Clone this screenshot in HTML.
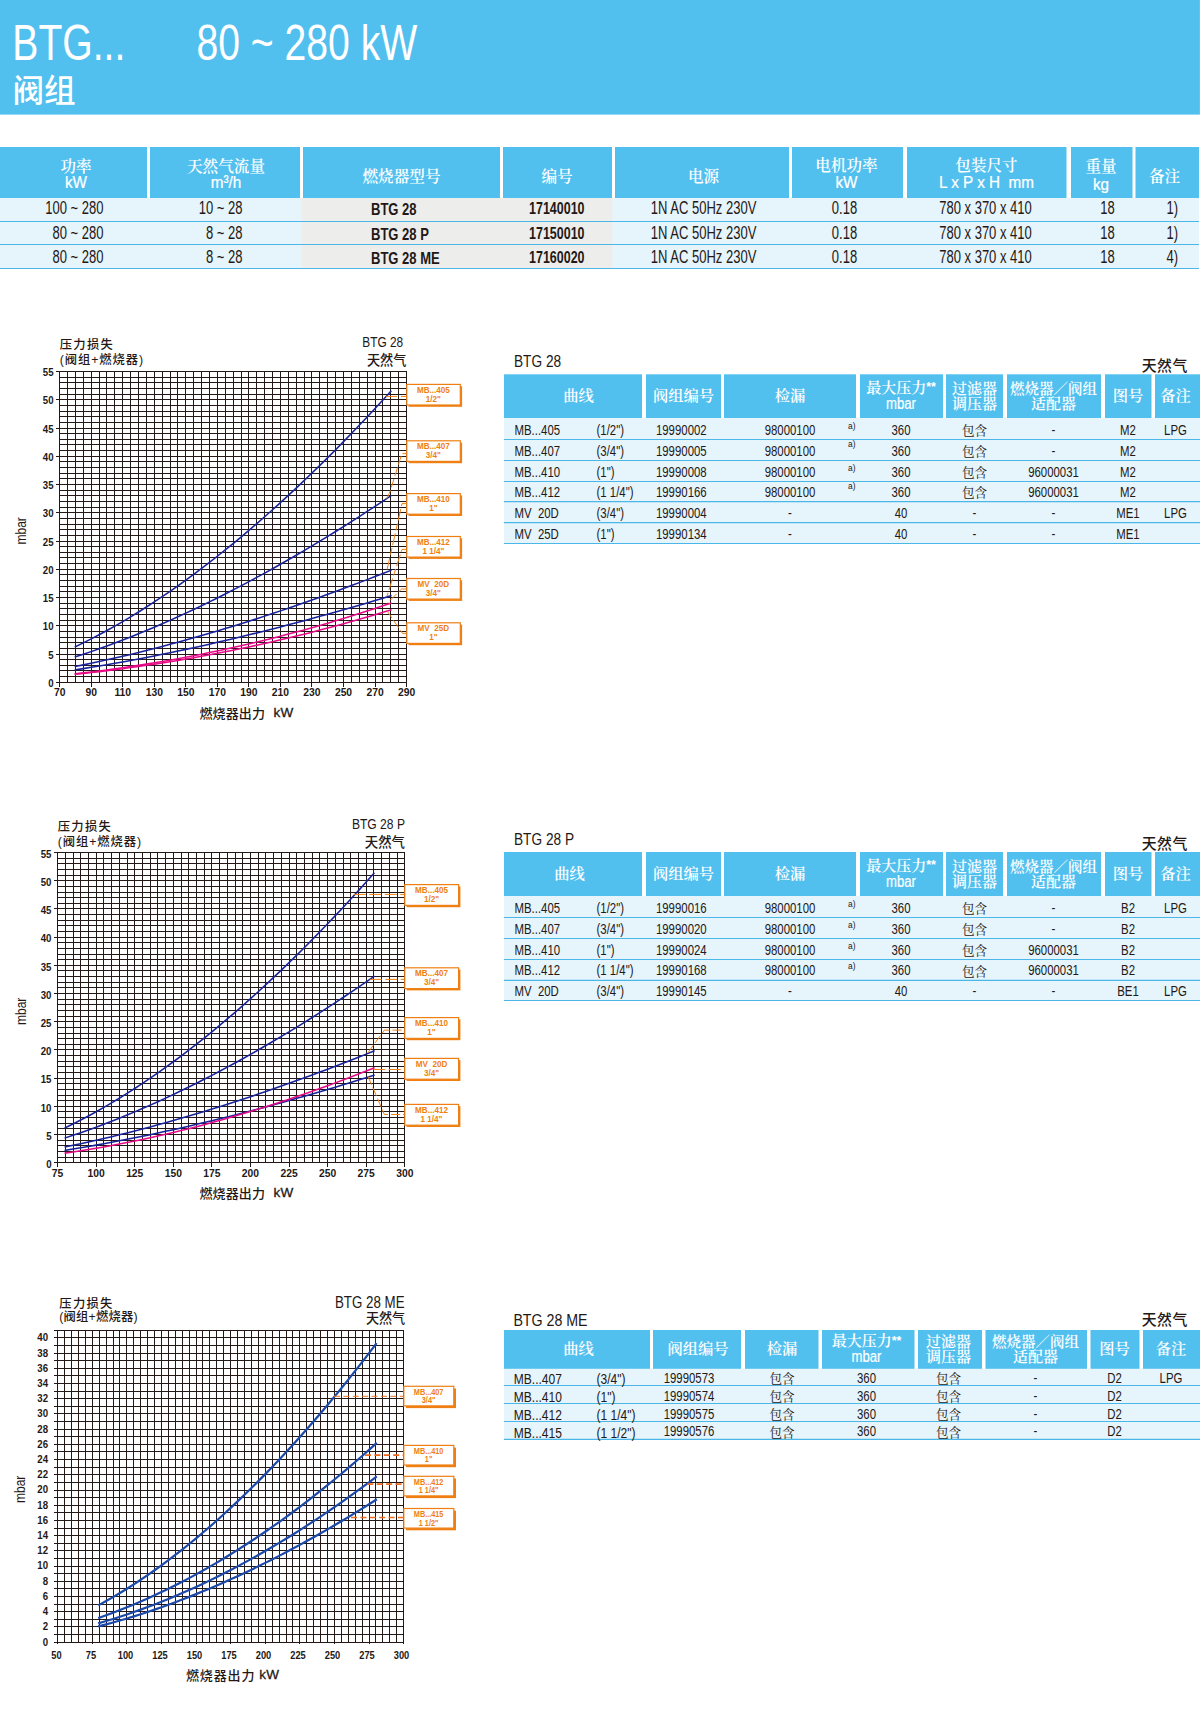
<!DOCTYPE html>
<html lang="zh-CN">
<head>
<meta charset="utf-8">
<title>BTG... 80 ~ 280 kW 阀组</title>
<style>
html,body{margin:0;padding:0;background:#fff;}
body{width:1201px;height:1712px;overflow:hidden;font-family:"Liberation Sans", "Noto Sans CJK SC", sans-serif;}
svg{display:block;}
text{white-space:pre;}
</style>
</head>
<body>
<svg width="1201" height="1712" viewBox="0 0 1201 1712">
<rect x="0.00" y="0.00" width="1199.90" height="114.60" fill="#52c0ef" />
<text transform="translate(12.30,60.00) scale(0.77,1)" font-size="50.8" text-anchor="start" font-weight="normal" fill="#fff" font-family='"Liberation Sans", "Noto Sans CJK SC", sans-serif' >BTG...</text>
<text transform="translate(196.50,60.00) scale(0.77,1)" font-size="50.8" text-anchor="start" font-weight="normal" fill="#fff" font-family='"Liberation Sans", "Noto Sans CJK SC", sans-serif' >80 ~ 280 kW</text>
<text transform="translate(12.50,101.60) scale(1.0,1)" font-size="31.6" text-anchor="start" font-weight="500" fill="#fff" font-family='"Liberation Sans", "Noto Sans CJK SC", sans-serif' >阀组</text>
<rect x="0.00" y="198.00" width="1199.00" height="70.50" fill="#e6f4fc" />
<rect x="301.80" y="198.00" width="310.70" height="70.50" fill="#ededec" />
<rect x="0.00" y="147.00" width="147.00" height="51.00" fill="#52c0ef" />
<rect x="150.00" y="147.00" width="150.00" height="51.00" fill="#52c0ef" />
<rect x="303.00" y="147.00" width="197.00" height="51.00" fill="#52c0ef" />
<rect x="503.00" y="147.00" width="109.00" height="51.00" fill="#52c0ef" />
<rect x="615.00" y="147.00" width="174.00" height="51.00" fill="#52c0ef" />
<rect x="792.00" y="147.00" width="111.00" height="51.00" fill="#52c0ef" />
<rect x="907.00" y="147.00" width="159.50" height="51.00" fill="#52c0ef" />
<rect x="1071.00" y="147.00" width="61.50" height="51.00" fill="#52c0ef" />
<rect x="1135.50" y="147.00" width="63.50" height="51.00" fill="#52c0ef" />
<line x1="0.00" y1="221.50" x2="1199.00" y2="221.50" stroke="#4bb7e8" stroke-width="1.15" />
<line x1="0.00" y1="244.50" x2="1199.00" y2="244.50" stroke="#4bb7e8" stroke-width="1.15" />
<line x1="0.00" y1="268.50" x2="1199.00" y2="268.50" stroke="#4bb7e8" stroke-width="1.15" />
<text transform="translate(76.00,171.50) scale(1.0,1)" font-size="15.6" text-anchor="middle" font-weight="600" fill="#fff" font-family='"Liberation Sans", "Noto Serif CJK SC", serif' >功率</text>
<text transform="translate(76.00,188.00) scale(0.9,1)" font-size="17" text-anchor="middle" font-weight="normal" fill="#fff" font-family='"Liberation Sans", "Noto Sans CJK SC", sans-serif' stroke="#fff" stroke-width="0.25">kW</text>
<text transform="translate(226.00,171.50) scale(1.0,1)" font-size="15.6" text-anchor="middle" font-weight="600" fill="#fff" font-family='"Liberation Sans", "Noto Serif CJK SC", serif' >天然气流量</text>
<text transform="translate(226.00,188.00) scale(0.9,1)" font-size="17" text-anchor="middle" font-weight="normal" fill="#fff" font-family='"Liberation Sans", "Noto Sans CJK SC", sans-serif' stroke="#fff" stroke-width="0.25">m³/h</text>
<text transform="translate(401.50,181.50) scale(1.0,1)" font-size="15.6" text-anchor="middle" font-weight="600" fill="#fff" font-family='"Liberation Sans", "Noto Serif CJK SC", serif' >燃烧器型号</text>
<text transform="translate(557.00,182.00) scale(1.0,1)" font-size="15.6" text-anchor="middle" font-weight="600" fill="#fff" font-family='"Liberation Sans", "Noto Serif CJK SC", serif' >编号</text>
<text transform="translate(703.50,182.00) scale(1.0,1)" font-size="15.6" text-anchor="middle" font-weight="600" fill="#fff" font-family='"Liberation Sans", "Noto Serif CJK SC", serif' >电源</text>
<text transform="translate(846.50,170.50) scale(1.0,1)" font-size="15.6" text-anchor="middle" font-weight="600" fill="#fff" font-family='"Liberation Sans", "Noto Serif CJK SC", serif' >电机功率</text>
<text transform="translate(846.50,188.00) scale(0.9,1)" font-size="17" text-anchor="middle" font-weight="normal" fill="#fff" font-family='"Liberation Sans", "Noto Sans CJK SC", sans-serif' stroke="#fff" stroke-width="0.25">kW</text>
<text transform="translate(986.50,170.50) scale(1.0,1)" font-size="15.6" text-anchor="middle" font-weight="600" fill="#fff" font-family='"Liberation Sans", "Noto Serif CJK SC", serif' >包装尺寸</text>
<text transform="translate(986.50,188.00) scale(0.9,1)" font-size="17" text-anchor="middle" font-weight="normal" fill="#fff" font-family='"Liberation Sans", "Noto Sans CJK SC", sans-serif' stroke="#fff" stroke-width="0.25">L x P x H  mm</text>
<text transform="translate(1101.00,172.00) scale(1.0,1)" font-size="15.6" text-anchor="middle" font-weight="600" fill="#fff" font-family='"Liberation Sans", "Noto Serif CJK SC", serif' >重量</text>
<text transform="translate(1101.00,190.00) scale(0.9,1)" font-size="17" text-anchor="middle" font-weight="normal" fill="#fff" font-family='"Liberation Sans", "Noto Sans CJK SC", sans-serif' stroke="#fff" stroke-width="0.25">kg</text>
<text transform="translate(1164.50,182.00) scale(1.0,1)" font-size="15.6" text-anchor="middle" font-weight="600" fill="#fff" font-family='"Liberation Sans", "Noto Serif CJK SC", serif' >备注</text>
<text transform="translate(103.50,214.30) scale(0.74,1)" font-size="17.6" text-anchor="end" font-weight="normal" fill="#231815" font-family='"Liberation Sans", "Noto Sans CJK SC", sans-serif' >100 ~ 280</text>
<text transform="translate(242.50,214.30) scale(0.74,1)" font-size="17.6" text-anchor="end" font-weight="normal" fill="#231815" font-family='"Liberation Sans", "Noto Sans CJK SC", sans-serif' >10 ~ 28</text>
<text transform="translate(371.00,215.10) scale(0.79,1)" font-size="16.5" text-anchor="start" font-weight="bold" fill="#231815" font-family='"Liberation Sans", "Noto Sans CJK SC", sans-serif' >BTG 28</text>
<text transform="translate(584.50,214.30) scale(0.76,1)" font-size="16.4" text-anchor="end" font-weight="bold" fill="#231815" font-family='"Liberation Sans", "Noto Sans CJK SC", sans-serif' >17140010</text>
<text transform="translate(703.50,214.30) scale(0.74,1)" font-size="17.6" text-anchor="middle" font-weight="normal" fill="#231815" font-family='"Liberation Sans", "Noto Sans CJK SC", sans-serif' >1N AC 50Hz 230V</text>
<text transform="translate(844.50,214.30) scale(0.74,1)" font-size="17.6" text-anchor="middle" font-weight="normal" fill="#231815" font-family='"Liberation Sans", "Noto Sans CJK SC", sans-serif' >0.18</text>
<text transform="translate(985.50,214.30) scale(0.74,1)" font-size="17.6" text-anchor="middle" font-weight="normal" fill="#231815" font-family='"Liberation Sans", "Noto Sans CJK SC", sans-serif' >780 x 370 x 410</text>
<text transform="translate(1107.50,214.30) scale(0.74,1)" font-size="17.6" text-anchor="middle" font-weight="normal" fill="#231815" font-family='"Liberation Sans", "Noto Sans CJK SC", sans-serif' >18</text>
<text transform="translate(1178.00,214.30) scale(0.74,1)" font-size="17.6" text-anchor="end" font-weight="normal" fill="#231815" font-family='"Liberation Sans", "Noto Sans CJK SC", sans-serif' >1)</text>
<text transform="translate(103.50,238.70) scale(0.74,1)" font-size="17.6" text-anchor="end" font-weight="normal" fill="#231815" font-family='"Liberation Sans", "Noto Sans CJK SC", sans-serif' >80 ~ 280</text>
<text transform="translate(242.50,238.70) scale(0.74,1)" font-size="17.6" text-anchor="end" font-weight="normal" fill="#231815" font-family='"Liberation Sans", "Noto Sans CJK SC", sans-serif' >8 ~ 28</text>
<text transform="translate(371.00,239.50) scale(0.79,1)" font-size="16.5" text-anchor="start" font-weight="bold" fill="#231815" font-family='"Liberation Sans", "Noto Sans CJK SC", sans-serif' >BTG 28 P</text>
<text transform="translate(584.50,238.70) scale(0.76,1)" font-size="16.4" text-anchor="end" font-weight="bold" fill="#231815" font-family='"Liberation Sans", "Noto Sans CJK SC", sans-serif' >17150010</text>
<text transform="translate(703.50,238.70) scale(0.74,1)" font-size="17.6" text-anchor="middle" font-weight="normal" fill="#231815" font-family='"Liberation Sans", "Noto Sans CJK SC", sans-serif' >1N AC 50Hz 230V</text>
<text transform="translate(844.50,238.70) scale(0.74,1)" font-size="17.6" text-anchor="middle" font-weight="normal" fill="#231815" font-family='"Liberation Sans", "Noto Sans CJK SC", sans-serif' >0.18</text>
<text transform="translate(985.50,238.70) scale(0.74,1)" font-size="17.6" text-anchor="middle" font-weight="normal" fill="#231815" font-family='"Liberation Sans", "Noto Sans CJK SC", sans-serif' >780 x 370 x 410</text>
<text transform="translate(1107.50,238.70) scale(0.74,1)" font-size="17.6" text-anchor="middle" font-weight="normal" fill="#231815" font-family='"Liberation Sans", "Noto Sans CJK SC", sans-serif' >18</text>
<text transform="translate(1178.00,238.70) scale(0.74,1)" font-size="17.6" text-anchor="end" font-weight="normal" fill="#231815" font-family='"Liberation Sans", "Noto Sans CJK SC", sans-serif' >1)</text>
<text transform="translate(103.50,263.00) scale(0.74,1)" font-size="17.6" text-anchor="end" font-weight="normal" fill="#231815" font-family='"Liberation Sans", "Noto Sans CJK SC", sans-serif' >80 ~ 280</text>
<text transform="translate(242.50,263.00) scale(0.74,1)" font-size="17.6" text-anchor="end" font-weight="normal" fill="#231815" font-family='"Liberation Sans", "Noto Sans CJK SC", sans-serif' >8 ~ 28</text>
<text transform="translate(371.00,263.80) scale(0.79,1)" font-size="16.5" text-anchor="start" font-weight="bold" fill="#231815" font-family='"Liberation Sans", "Noto Sans CJK SC", sans-serif' >BTG 28 ME</text>
<text transform="translate(584.50,263.00) scale(0.76,1)" font-size="16.4" text-anchor="end" font-weight="bold" fill="#231815" font-family='"Liberation Sans", "Noto Sans CJK SC", sans-serif' >17160020</text>
<text transform="translate(703.50,263.00) scale(0.74,1)" font-size="17.6" text-anchor="middle" font-weight="normal" fill="#231815" font-family='"Liberation Sans", "Noto Sans CJK SC", sans-serif' >1N AC 50Hz 230V</text>
<text transform="translate(844.50,263.00) scale(0.74,1)" font-size="17.6" text-anchor="middle" font-weight="normal" fill="#231815" font-family='"Liberation Sans", "Noto Sans CJK SC", sans-serif' >0.18</text>
<text transform="translate(985.50,263.00) scale(0.74,1)" font-size="17.6" text-anchor="middle" font-weight="normal" fill="#231815" font-family='"Liberation Sans", "Noto Sans CJK SC", sans-serif' >780 x 370 x 410</text>
<text transform="translate(1107.50,263.00) scale(0.74,1)" font-size="17.6" text-anchor="middle" font-weight="normal" fill="#231815" font-family='"Liberation Sans", "Noto Sans CJK SC", sans-serif' >18</text>
<text transform="translate(1178.00,263.00) scale(0.74,1)" font-size="17.6" text-anchor="end" font-weight="normal" fill="#231815" font-family='"Liberation Sans", "Noto Sans CJK SC", sans-serif' >4)</text>
<text transform="translate(514.00,367.00) scale(0.855,1)" font-size="16" text-anchor="start" font-weight="normal" fill="#231815" font-family='"Liberation Sans", "Noto Sans CJK SC", sans-serif' >BTG 28</text>
<text transform="translate(1188.00,370.80) scale(1.0,1)" font-size="14.9" text-anchor="end" font-weight="500" fill="#231815" font-family='"Liberation Sans", "Noto Sans CJK SC", sans-serif' letter-spacing="0.55">天然气</text>
<rect x="504.00" y="418.00" width="696.00" height="125.50" fill="#e6f4fc" />
<rect x="504.00" y="374.30" width="138.00" height="43.70" fill="#52c0ef" />
<rect x="646.00" y="374.30" width="75.00" height="43.70" fill="#52c0ef" />
<rect x="724.00" y="374.30" width="132.00" height="43.70" fill="#52c0ef" />
<rect x="860.00" y="374.30" width="83.00" height="43.70" fill="#52c0ef" />
<rect x="946.00" y="374.30" width="57.00" height="43.70" fill="#52c0ef" />
<rect x="1007.00" y="374.30" width="94.00" height="43.70" fill="#52c0ef" />
<rect x="1105.00" y="374.30" width="46.50" height="43.70" fill="#52c0ef" />
<rect x="1155.00" y="374.30" width="45.00" height="43.70" fill="#52c0ef" />
<line x1="504.00" y1="439.50" x2="1200.00" y2="439.50" stroke="#4bb7e8" stroke-width="1.1" />
<line x1="504.00" y1="460.50" x2="1200.00" y2="460.50" stroke="#4bb7e8" stroke-width="1.1" />
<line x1="504.00" y1="481.50" x2="1200.00" y2="481.50" stroke="#4bb7e8" stroke-width="1.1" />
<line x1="504.00" y1="501.60" x2="1200.00" y2="501.60" stroke="#4bb7e8" stroke-width="1.1" />
<line x1="504.00" y1="522.60" x2="1200.00" y2="522.60" stroke="#4bb7e8" stroke-width="1.1" />
<line x1="504.00" y1="543.50" x2="1200.00" y2="543.50" stroke="#4bb7e8" stroke-width="1.1" />
<text transform="translate(578.50,400.95) scale(1.0,1)" font-size="15.3" text-anchor="middle" font-weight="600" fill="#fff" font-family='"Liberation Sans", "Noto Serif CJK SC", serif' >曲线</text>
<text transform="translate(683.50,400.95) scale(1.0,1)" font-size="15.3" text-anchor="middle" font-weight="600" fill="#fff" font-family='"Liberation Sans", "Noto Serif CJK SC", serif' >阀组编号</text>
<text transform="translate(790.00,400.95) scale(1.0,1)" font-size="15.3" text-anchor="middle" font-weight="600" fill="#fff" font-family='"Liberation Sans", "Noto Serif CJK SC", serif' >检漏</text>
<text transform="translate(901.00,392.65) scale(1.0,1)" font-size="15" text-anchor="middle" font-weight="600" fill="#fff" font-family='"Liberation Sans", "Noto Serif CJK SC", serif' >最大压力<tspan font-family="Liberation Sans, sans-serif" font-weight="bold" font-size="12.5" dy="-1.2">**</tspan></text>
<text transform="translate(901.00,409.15) scale(0.82,1)" font-size="16" text-anchor="middle" font-weight="normal" fill="#fff" font-family='"Liberation Sans", "Noto Sans CJK SC", sans-serif' stroke="#fff" stroke-width="0.2">mbar</text>
<text transform="translate(974.50,393.65) scale(1.0,1)" font-size="15" text-anchor="middle" font-weight="600" fill="#fff" font-family='"Liberation Sans", "Noto Serif CJK SC", serif' >过滤器</text>
<text transform="translate(974.50,409.15) scale(1.0,1)" font-size="15" text-anchor="middle" font-weight="600" fill="#fff" font-family='"Liberation Sans", "Noto Serif CJK SC", serif' >调压器</text>
<text transform="translate(1053.50,393.65) scale(1.0,1)" font-size="14.5" text-anchor="middle" font-weight="600" fill="#fff" font-family='"Liberation Sans", "Noto Serif CJK SC", serif' >燃烧器／阀组</text>
<text transform="translate(1053.50,409.15) scale(1.0,1)" font-size="15" text-anchor="middle" font-weight="600" fill="#fff" font-family='"Liberation Sans", "Noto Serif CJK SC", serif' >适配器</text>
<text transform="translate(1128.00,400.95) scale(1.0,1)" font-size="15.3" text-anchor="middle" font-weight="600" fill="#fff" font-family='"Liberation Sans", "Noto Serif CJK SC", serif' >图号</text>
<text transform="translate(1175.50,400.95) scale(1.0,1)" font-size="15.3" text-anchor="middle" font-weight="600" fill="#fff" font-family='"Liberation Sans", "Noto Serif CJK SC", serif' >备注</text>
<text transform="translate(514.50,434.50) scale(0.82,1)" font-size="13.9" text-anchor="start" font-weight="normal" fill="#231815" font-family='"Liberation Sans", "Noto Sans CJK SC", sans-serif' >MB...405</text>
<text transform="translate(596.50,434.50) scale(0.82,1)" font-size="13.9" text-anchor="start" font-weight="normal" fill="#231815" font-family='"Liberation Sans", "Noto Sans CJK SC", sans-serif' >(1/2")</text>
<text transform="translate(681.30,434.50) scale(0.82,1)" font-size="13.9" text-anchor="middle" font-weight="normal" fill="#231815" font-family='"Liberation Sans", "Noto Sans CJK SC", sans-serif' >19990002</text>
<text transform="translate(790.00,434.50) scale(0.82,1)" font-size="13.9" text-anchor="middle" font-weight="normal" fill="#231815" font-family='"Liberation Sans", "Noto Sans CJK SC", sans-serif' >98000100</text>
<text transform="translate(848.00,429.30) scale(0.88,1)" font-size="9.5" text-anchor="start" font-weight="normal" fill="#231815" font-family='"Liberation Sans", "Noto Sans CJK SC", sans-serif' >a)</text>
<text transform="translate(901.00,434.50) scale(0.82,1)" font-size="13.9" text-anchor="middle" font-weight="normal" fill="#231815" font-family='"Liberation Sans", "Noto Sans CJK SC", sans-serif' >360</text>
<text transform="translate(974.50,434.80) scale(1.0,1)" font-size="12.6" text-anchor="middle" font-weight="normal" fill="#231815" font-family='"Liberation Sans", "Noto Serif CJK SC", serif' >包含</text>
<text transform="translate(1053.50,434.50) scale(0.82,1)" font-size="13.9" text-anchor="middle" font-weight="normal" fill="#231815" font-family='"Liberation Sans", "Noto Sans CJK SC", sans-serif' >-</text>
<text transform="translate(1128.00,434.50) scale(0.82,1)" font-size="13.9" text-anchor="middle" font-weight="normal" fill="#231815" font-family='"Liberation Sans", "Noto Sans CJK SC", sans-serif' >M2</text>
<text transform="translate(1175.50,434.50) scale(0.82,1)" font-size="13.9" text-anchor="middle" font-weight="normal" fill="#231815" font-family='"Liberation Sans", "Noto Sans CJK SC", sans-serif' >LPG</text>
<text transform="translate(514.50,455.50) scale(0.82,1)" font-size="13.9" text-anchor="start" font-weight="normal" fill="#231815" font-family='"Liberation Sans", "Noto Sans CJK SC", sans-serif' >MB...407</text>
<text transform="translate(596.50,455.50) scale(0.82,1)" font-size="13.9" text-anchor="start" font-weight="normal" fill="#231815" font-family='"Liberation Sans", "Noto Sans CJK SC", sans-serif' >(3/4")</text>
<text transform="translate(681.30,455.50) scale(0.82,1)" font-size="13.9" text-anchor="middle" font-weight="normal" fill="#231815" font-family='"Liberation Sans", "Noto Sans CJK SC", sans-serif' >19990005</text>
<text transform="translate(790.00,455.50) scale(0.82,1)" font-size="13.9" text-anchor="middle" font-weight="normal" fill="#231815" font-family='"Liberation Sans", "Noto Sans CJK SC", sans-serif' >98000100</text>
<text transform="translate(848.00,447.30) scale(0.88,1)" font-size="9.5" text-anchor="start" font-weight="normal" fill="#231815" font-family='"Liberation Sans", "Noto Sans CJK SC", sans-serif' >a)</text>
<text transform="translate(901.00,455.50) scale(0.82,1)" font-size="13.9" text-anchor="middle" font-weight="normal" fill="#231815" font-family='"Liberation Sans", "Noto Sans CJK SC", sans-serif' >360</text>
<text transform="translate(974.50,455.80) scale(1.0,1)" font-size="12.6" text-anchor="middle" font-weight="normal" fill="#231815" font-family='"Liberation Sans", "Noto Serif CJK SC", serif' >包含</text>
<text transform="translate(1053.50,455.50) scale(0.82,1)" font-size="13.9" text-anchor="middle" font-weight="normal" fill="#231815" font-family='"Liberation Sans", "Noto Sans CJK SC", sans-serif' >-</text>
<text transform="translate(1128.00,455.50) scale(0.82,1)" font-size="13.9" text-anchor="middle" font-weight="normal" fill="#231815" font-family='"Liberation Sans", "Noto Sans CJK SC", sans-serif' >M2</text>
<text transform="translate(514.50,476.50) scale(0.82,1)" font-size="13.9" text-anchor="start" font-weight="normal" fill="#231815" font-family='"Liberation Sans", "Noto Sans CJK SC", sans-serif' >MB...410</text>
<text transform="translate(596.50,476.50) scale(0.82,1)" font-size="13.9" text-anchor="start" font-weight="normal" fill="#231815" font-family='"Liberation Sans", "Noto Sans CJK SC", sans-serif' >(1")</text>
<text transform="translate(681.30,476.50) scale(0.82,1)" font-size="13.9" text-anchor="middle" font-weight="normal" fill="#231815" font-family='"Liberation Sans", "Noto Sans CJK SC", sans-serif' >19990008</text>
<text transform="translate(790.00,476.50) scale(0.82,1)" font-size="13.9" text-anchor="middle" font-weight="normal" fill="#231815" font-family='"Liberation Sans", "Noto Sans CJK SC", sans-serif' >98000100</text>
<text transform="translate(848.00,470.80) scale(0.88,1)" font-size="9.5" text-anchor="start" font-weight="normal" fill="#231815" font-family='"Liberation Sans", "Noto Sans CJK SC", sans-serif' >a)</text>
<text transform="translate(901.00,476.50) scale(0.82,1)" font-size="13.9" text-anchor="middle" font-weight="normal" fill="#231815" font-family='"Liberation Sans", "Noto Sans CJK SC", sans-serif' >360</text>
<text transform="translate(974.50,476.80) scale(1.0,1)" font-size="12.6" text-anchor="middle" font-weight="normal" fill="#231815" font-family='"Liberation Sans", "Noto Serif CJK SC", serif' >包含</text>
<text transform="translate(1053.50,476.50) scale(0.82,1)" font-size="13.9" text-anchor="middle" font-weight="normal" fill="#231815" font-family='"Liberation Sans", "Noto Sans CJK SC", sans-serif' >96000031</text>
<text transform="translate(1128.00,476.50) scale(0.82,1)" font-size="13.9" text-anchor="middle" font-weight="normal" fill="#231815" font-family='"Liberation Sans", "Noto Sans CJK SC", sans-serif' >M2</text>
<text transform="translate(514.50,496.60) scale(0.82,1)" font-size="13.9" text-anchor="start" font-weight="normal" fill="#231815" font-family='"Liberation Sans", "Noto Sans CJK SC", sans-serif' >MB...412</text>
<text transform="translate(596.50,496.60) scale(0.82,1)" font-size="13.9" text-anchor="start" font-weight="normal" fill="#231815" font-family='"Liberation Sans", "Noto Sans CJK SC", sans-serif' >(1 1/4")</text>
<text transform="translate(681.30,496.60) scale(0.82,1)" font-size="13.9" text-anchor="middle" font-weight="normal" fill="#231815" font-family='"Liberation Sans", "Noto Sans CJK SC", sans-serif' >19990166</text>
<text transform="translate(790.00,496.60) scale(0.82,1)" font-size="13.9" text-anchor="middle" font-weight="normal" fill="#231815" font-family='"Liberation Sans", "Noto Sans CJK SC", sans-serif' >98000100</text>
<text transform="translate(848.00,488.90) scale(0.88,1)" font-size="9.5" text-anchor="start" font-weight="normal" fill="#231815" font-family='"Liberation Sans", "Noto Sans CJK SC", sans-serif' >a)</text>
<text transform="translate(901.00,496.60) scale(0.82,1)" font-size="13.9" text-anchor="middle" font-weight="normal" fill="#231815" font-family='"Liberation Sans", "Noto Sans CJK SC", sans-serif' >360</text>
<text transform="translate(974.50,496.90) scale(1.0,1)" font-size="12.6" text-anchor="middle" font-weight="normal" fill="#231815" font-family='"Liberation Sans", "Noto Serif CJK SC", serif' >包含</text>
<text transform="translate(1053.50,496.60) scale(0.82,1)" font-size="13.9" text-anchor="middle" font-weight="normal" fill="#231815" font-family='"Liberation Sans", "Noto Sans CJK SC", sans-serif' >96000031</text>
<text transform="translate(1128.00,496.60) scale(0.82,1)" font-size="13.9" text-anchor="middle" font-weight="normal" fill="#231815" font-family='"Liberation Sans", "Noto Sans CJK SC", sans-serif' >M2</text>
<text transform="translate(514.50,517.60) scale(0.82,1)" font-size="13.9" text-anchor="start" font-weight="normal" fill="#231815" font-family='"Liberation Sans", "Noto Sans CJK SC", sans-serif' >MV  20D</text>
<text transform="translate(596.50,517.60) scale(0.82,1)" font-size="13.9" text-anchor="start" font-weight="normal" fill="#231815" font-family='"Liberation Sans", "Noto Sans CJK SC", sans-serif' >(3/4")</text>
<text transform="translate(681.30,517.60) scale(0.82,1)" font-size="13.9" text-anchor="middle" font-weight="normal" fill="#231815" font-family='"Liberation Sans", "Noto Sans CJK SC", sans-serif' >19990004</text>
<text transform="translate(790.00,517.60) scale(0.82,1)" font-size="13.9" text-anchor="middle" font-weight="normal" fill="#231815" font-family='"Liberation Sans", "Noto Sans CJK SC", sans-serif' >-</text>
<text transform="translate(901.00,517.60) scale(0.82,1)" font-size="13.9" text-anchor="middle" font-weight="normal" fill="#231815" font-family='"Liberation Sans", "Noto Sans CJK SC", sans-serif' >40</text>
<text transform="translate(974.50,517.60) scale(0.82,1)" font-size="13.9" text-anchor="middle" font-weight="normal" fill="#231815" font-family='"Liberation Sans", "Noto Sans CJK SC", sans-serif' >-</text>
<text transform="translate(1053.50,517.60) scale(0.82,1)" font-size="13.9" text-anchor="middle" font-weight="normal" fill="#231815" font-family='"Liberation Sans", "Noto Sans CJK SC", sans-serif' >-</text>
<text transform="translate(1128.00,517.60) scale(0.82,1)" font-size="13.9" text-anchor="middle" font-weight="normal" fill="#231815" font-family='"Liberation Sans", "Noto Sans CJK SC", sans-serif' >ME1</text>
<text transform="translate(1175.50,517.60) scale(0.82,1)" font-size="13.9" text-anchor="middle" font-weight="normal" fill="#231815" font-family='"Liberation Sans", "Noto Sans CJK SC", sans-serif' >LPG</text>
<text transform="translate(514.50,538.50) scale(0.82,1)" font-size="13.9" text-anchor="start" font-weight="normal" fill="#231815" font-family='"Liberation Sans", "Noto Sans CJK SC", sans-serif' >MV  25D</text>
<text transform="translate(596.50,538.50) scale(0.82,1)" font-size="13.9" text-anchor="start" font-weight="normal" fill="#231815" font-family='"Liberation Sans", "Noto Sans CJK SC", sans-serif' >(1")</text>
<text transform="translate(681.30,538.50) scale(0.82,1)" font-size="13.9" text-anchor="middle" font-weight="normal" fill="#231815" font-family='"Liberation Sans", "Noto Sans CJK SC", sans-serif' >19990134</text>
<text transform="translate(790.00,538.50) scale(0.82,1)" font-size="13.9" text-anchor="middle" font-weight="normal" fill="#231815" font-family='"Liberation Sans", "Noto Sans CJK SC", sans-serif' >-</text>
<text transform="translate(901.00,538.50) scale(0.82,1)" font-size="13.9" text-anchor="middle" font-weight="normal" fill="#231815" font-family='"Liberation Sans", "Noto Sans CJK SC", sans-serif' >40</text>
<text transform="translate(974.50,538.50) scale(0.82,1)" font-size="13.9" text-anchor="middle" font-weight="normal" fill="#231815" font-family='"Liberation Sans", "Noto Sans CJK SC", sans-serif' >-</text>
<text transform="translate(1053.50,538.50) scale(0.82,1)" font-size="13.9" text-anchor="middle" font-weight="normal" fill="#231815" font-family='"Liberation Sans", "Noto Sans CJK SC", sans-serif' >-</text>
<text transform="translate(1128.00,538.50) scale(0.82,1)" font-size="13.9" text-anchor="middle" font-weight="normal" fill="#231815" font-family='"Liberation Sans", "Noto Sans CJK SC", sans-serif' >ME1</text>
<text transform="translate(514.00,845.00) scale(0.855,1)" font-size="16" text-anchor="start" font-weight="normal" fill="#231815" font-family='"Liberation Sans", "Noto Sans CJK SC", sans-serif' >BTG 28 P</text>
<text transform="translate(1188.00,848.80) scale(1.0,1)" font-size="14.9" text-anchor="end" font-weight="500" fill="#231815" font-family='"Liberation Sans", "Noto Sans CJK SC", sans-serif' letter-spacing="0.55">天然气</text>
<rect x="504.00" y="896.00" width="696.00" height="104.50" fill="#e6f4fc" />
<rect x="504.00" y="852.00" width="138.00" height="44.00" fill="#52c0ef" />
<rect x="646.00" y="852.00" width="75.00" height="44.00" fill="#52c0ef" />
<rect x="724.00" y="852.00" width="132.00" height="44.00" fill="#52c0ef" />
<rect x="860.00" y="852.00" width="83.00" height="44.00" fill="#52c0ef" />
<rect x="946.00" y="852.00" width="57.00" height="44.00" fill="#52c0ef" />
<rect x="1007.00" y="852.00" width="94.00" height="44.00" fill="#52c0ef" />
<rect x="1105.00" y="852.00" width="46.50" height="44.00" fill="#52c0ef" />
<rect x="1155.00" y="852.00" width="45.00" height="44.00" fill="#52c0ef" />
<line x1="504.00" y1="917.50" x2="1200.00" y2="917.50" stroke="#4bb7e8" stroke-width="1.1" />
<line x1="504.00" y1="938.50" x2="1200.00" y2="938.50" stroke="#4bb7e8" stroke-width="1.1" />
<line x1="504.00" y1="959.50" x2="1200.00" y2="959.50" stroke="#4bb7e8" stroke-width="1.1" />
<line x1="504.00" y1="980.40" x2="1200.00" y2="980.40" stroke="#4bb7e8" stroke-width="1.1" />
<line x1="504.00" y1="1000.50" x2="1200.00" y2="1000.50" stroke="#4bb7e8" stroke-width="1.1" />
<text transform="translate(569.50,878.80) scale(1.0,1)" font-size="15.3" text-anchor="middle" font-weight="600" fill="#fff" font-family='"Liberation Sans", "Noto Serif CJK SC", serif' >曲线</text>
<text transform="translate(683.50,878.80) scale(1.0,1)" font-size="15.3" text-anchor="middle" font-weight="600" fill="#fff" font-family='"Liberation Sans", "Noto Serif CJK SC", serif' >阀组编号</text>
<text transform="translate(790.00,878.80) scale(1.0,1)" font-size="15.3" text-anchor="middle" font-weight="600" fill="#fff" font-family='"Liberation Sans", "Noto Serif CJK SC", serif' >检漏</text>
<text transform="translate(901.00,870.50) scale(1.0,1)" font-size="15" text-anchor="middle" font-weight="600" fill="#fff" font-family='"Liberation Sans", "Noto Serif CJK SC", serif' >最大压力<tspan font-family="Liberation Sans, sans-serif" font-weight="bold" font-size="12.5" dy="-1.2">**</tspan></text>
<text transform="translate(901.00,887.00) scale(0.82,1)" font-size="16" text-anchor="middle" font-weight="normal" fill="#fff" font-family='"Liberation Sans", "Noto Sans CJK SC", sans-serif' stroke="#fff" stroke-width="0.2">mbar</text>
<text transform="translate(974.50,871.50) scale(1.0,1)" font-size="15" text-anchor="middle" font-weight="600" fill="#fff" font-family='"Liberation Sans", "Noto Serif CJK SC", serif' >过滤器</text>
<text transform="translate(974.50,887.00) scale(1.0,1)" font-size="15" text-anchor="middle" font-weight="600" fill="#fff" font-family='"Liberation Sans", "Noto Serif CJK SC", serif' >调压器</text>
<text transform="translate(1053.50,871.50) scale(1.0,1)" font-size="14.5" text-anchor="middle" font-weight="600" fill="#fff" font-family='"Liberation Sans", "Noto Serif CJK SC", serif' >燃烧器／阀组</text>
<text transform="translate(1053.50,887.00) scale(1.0,1)" font-size="15" text-anchor="middle" font-weight="600" fill="#fff" font-family='"Liberation Sans", "Noto Serif CJK SC", serif' >适配器</text>
<text transform="translate(1128.00,878.80) scale(1.0,1)" font-size="15.3" text-anchor="middle" font-weight="600" fill="#fff" font-family='"Liberation Sans", "Noto Serif CJK SC", serif' >图号</text>
<text transform="translate(1175.50,878.80) scale(1.0,1)" font-size="15.3" text-anchor="middle" font-weight="600" fill="#fff" font-family='"Liberation Sans", "Noto Serif CJK SC", serif' >备注</text>
<text transform="translate(514.50,912.50) scale(0.82,1)" font-size="13.9" text-anchor="start" font-weight="normal" fill="#231815" font-family='"Liberation Sans", "Noto Sans CJK SC", sans-serif' >MB...405</text>
<text transform="translate(596.50,912.50) scale(0.82,1)" font-size="13.9" text-anchor="start" font-weight="normal" fill="#231815" font-family='"Liberation Sans", "Noto Sans CJK SC", sans-serif' >(1/2")</text>
<text transform="translate(681.30,912.50) scale(0.82,1)" font-size="13.9" text-anchor="middle" font-weight="normal" fill="#231815" font-family='"Liberation Sans", "Noto Sans CJK SC", sans-serif' >19990016</text>
<text transform="translate(790.00,912.50) scale(0.82,1)" font-size="13.9" text-anchor="middle" font-weight="normal" fill="#231815" font-family='"Liberation Sans", "Noto Sans CJK SC", sans-serif' >98000100</text>
<text transform="translate(848.00,906.80) scale(0.88,1)" font-size="9.5" text-anchor="start" font-weight="normal" fill="#231815" font-family='"Liberation Sans", "Noto Sans CJK SC", sans-serif' >a)</text>
<text transform="translate(901.00,912.50) scale(0.82,1)" font-size="13.9" text-anchor="middle" font-weight="normal" fill="#231815" font-family='"Liberation Sans", "Noto Sans CJK SC", sans-serif' >360</text>
<text transform="translate(974.50,912.80) scale(1.0,1)" font-size="12.6" text-anchor="middle" font-weight="normal" fill="#231815" font-family='"Liberation Sans", "Noto Serif CJK SC", serif' >包含</text>
<text transform="translate(1053.50,912.50) scale(0.82,1)" font-size="13.9" text-anchor="middle" font-weight="normal" fill="#231815" font-family='"Liberation Sans", "Noto Sans CJK SC", sans-serif' >-</text>
<text transform="translate(1128.00,912.50) scale(0.82,1)" font-size="13.9" text-anchor="middle" font-weight="normal" fill="#231815" font-family='"Liberation Sans", "Noto Sans CJK SC", sans-serif' >B2</text>
<text transform="translate(1175.50,912.50) scale(0.82,1)" font-size="13.9" text-anchor="middle" font-weight="normal" fill="#231815" font-family='"Liberation Sans", "Noto Sans CJK SC", sans-serif' >LPG</text>
<text transform="translate(514.50,933.50) scale(0.82,1)" font-size="13.9" text-anchor="start" font-weight="normal" fill="#231815" font-family='"Liberation Sans", "Noto Sans CJK SC", sans-serif' >MB...407</text>
<text transform="translate(596.50,933.50) scale(0.82,1)" font-size="13.9" text-anchor="start" font-weight="normal" fill="#231815" font-family='"Liberation Sans", "Noto Sans CJK SC", sans-serif' >(3/4")</text>
<text transform="translate(681.30,933.50) scale(0.82,1)" font-size="13.9" text-anchor="middle" font-weight="normal" fill="#231815" font-family='"Liberation Sans", "Noto Sans CJK SC", sans-serif' >19990020</text>
<text transform="translate(790.00,933.50) scale(0.82,1)" font-size="13.9" text-anchor="middle" font-weight="normal" fill="#231815" font-family='"Liberation Sans", "Noto Sans CJK SC", sans-serif' >98000100</text>
<text transform="translate(848.00,927.80) scale(0.88,1)" font-size="9.5" text-anchor="start" font-weight="normal" fill="#231815" font-family='"Liberation Sans", "Noto Sans CJK SC", sans-serif' >a)</text>
<text transform="translate(901.00,933.50) scale(0.82,1)" font-size="13.9" text-anchor="middle" font-weight="normal" fill="#231815" font-family='"Liberation Sans", "Noto Sans CJK SC", sans-serif' >360</text>
<text transform="translate(974.50,933.80) scale(1.0,1)" font-size="12.6" text-anchor="middle" font-weight="normal" fill="#231815" font-family='"Liberation Sans", "Noto Serif CJK SC", serif' >包含</text>
<text transform="translate(1053.50,933.50) scale(0.82,1)" font-size="13.9" text-anchor="middle" font-weight="normal" fill="#231815" font-family='"Liberation Sans", "Noto Sans CJK SC", sans-serif' >-</text>
<text transform="translate(1128.00,933.50) scale(0.82,1)" font-size="13.9" text-anchor="middle" font-weight="normal" fill="#231815" font-family='"Liberation Sans", "Noto Sans CJK SC", sans-serif' >B2</text>
<text transform="translate(514.50,954.50) scale(0.82,1)" font-size="13.9" text-anchor="start" font-weight="normal" fill="#231815" font-family='"Liberation Sans", "Noto Sans CJK SC", sans-serif' >MB...410</text>
<text transform="translate(596.50,954.50) scale(0.82,1)" font-size="13.9" text-anchor="start" font-weight="normal" fill="#231815" font-family='"Liberation Sans", "Noto Sans CJK SC", sans-serif' >(1")</text>
<text transform="translate(681.30,954.50) scale(0.82,1)" font-size="13.9" text-anchor="middle" font-weight="normal" fill="#231815" font-family='"Liberation Sans", "Noto Sans CJK SC", sans-serif' >19990024</text>
<text transform="translate(790.00,954.50) scale(0.82,1)" font-size="13.9" text-anchor="middle" font-weight="normal" fill="#231815" font-family='"Liberation Sans", "Noto Sans CJK SC", sans-serif' >98000100</text>
<text transform="translate(848.00,949.30) scale(0.88,1)" font-size="9.5" text-anchor="start" font-weight="normal" fill="#231815" font-family='"Liberation Sans", "Noto Sans CJK SC", sans-serif' >a)</text>
<text transform="translate(901.00,954.50) scale(0.82,1)" font-size="13.9" text-anchor="middle" font-weight="normal" fill="#231815" font-family='"Liberation Sans", "Noto Sans CJK SC", sans-serif' >360</text>
<text transform="translate(974.50,954.80) scale(1.0,1)" font-size="12.6" text-anchor="middle" font-weight="normal" fill="#231815" font-family='"Liberation Sans", "Noto Serif CJK SC", serif' >包含</text>
<text transform="translate(1053.50,954.50) scale(0.82,1)" font-size="13.9" text-anchor="middle" font-weight="normal" fill="#231815" font-family='"Liberation Sans", "Noto Sans CJK SC", sans-serif' >96000031</text>
<text transform="translate(1128.00,954.50) scale(0.82,1)" font-size="13.9" text-anchor="middle" font-weight="normal" fill="#231815" font-family='"Liberation Sans", "Noto Sans CJK SC", sans-serif' >B2</text>
<text transform="translate(514.50,975.40) scale(0.82,1)" font-size="13.9" text-anchor="start" font-weight="normal" fill="#231815" font-family='"Liberation Sans", "Noto Sans CJK SC", sans-serif' >MB...412</text>
<text transform="translate(596.50,975.40) scale(0.82,1)" font-size="13.9" text-anchor="start" font-weight="normal" fill="#231815" font-family='"Liberation Sans", "Noto Sans CJK SC", sans-serif' >(1 1/4")</text>
<text transform="translate(681.30,975.40) scale(0.82,1)" font-size="13.9" text-anchor="middle" font-weight="normal" fill="#231815" font-family='"Liberation Sans", "Noto Sans CJK SC", sans-serif' >19990168</text>
<text transform="translate(790.00,975.40) scale(0.82,1)" font-size="13.9" text-anchor="middle" font-weight="normal" fill="#231815" font-family='"Liberation Sans", "Noto Sans CJK SC", sans-serif' >98000100</text>
<text transform="translate(848.00,969.20) scale(0.88,1)" font-size="9.5" text-anchor="start" font-weight="normal" fill="#231815" font-family='"Liberation Sans", "Noto Sans CJK SC", sans-serif' >a)</text>
<text transform="translate(901.00,975.40) scale(0.82,1)" font-size="13.9" text-anchor="middle" font-weight="normal" fill="#231815" font-family='"Liberation Sans", "Noto Sans CJK SC", sans-serif' >360</text>
<text transform="translate(974.50,975.70) scale(1.0,1)" font-size="12.6" text-anchor="middle" font-weight="normal" fill="#231815" font-family='"Liberation Sans", "Noto Serif CJK SC", serif' >包含</text>
<text transform="translate(1053.50,975.40) scale(0.82,1)" font-size="13.9" text-anchor="middle" font-weight="normal" fill="#231815" font-family='"Liberation Sans", "Noto Sans CJK SC", sans-serif' >96000031</text>
<text transform="translate(1128.00,975.40) scale(0.82,1)" font-size="13.9" text-anchor="middle" font-weight="normal" fill="#231815" font-family='"Liberation Sans", "Noto Sans CJK SC", sans-serif' >B2</text>
<text transform="translate(514.50,995.50) scale(0.82,1)" font-size="13.9" text-anchor="start" font-weight="normal" fill="#231815" font-family='"Liberation Sans", "Noto Sans CJK SC", sans-serif' >MV  20D</text>
<text transform="translate(596.50,995.50) scale(0.82,1)" font-size="13.9" text-anchor="start" font-weight="normal" fill="#231815" font-family='"Liberation Sans", "Noto Sans CJK SC", sans-serif' >(3/4")</text>
<text transform="translate(681.30,995.50) scale(0.82,1)" font-size="13.9" text-anchor="middle" font-weight="normal" fill="#231815" font-family='"Liberation Sans", "Noto Sans CJK SC", sans-serif' >19990145</text>
<text transform="translate(790.00,995.50) scale(0.82,1)" font-size="13.9" text-anchor="middle" font-weight="normal" fill="#231815" font-family='"Liberation Sans", "Noto Sans CJK SC", sans-serif' >-</text>
<text transform="translate(901.00,995.50) scale(0.82,1)" font-size="13.9" text-anchor="middle" font-weight="normal" fill="#231815" font-family='"Liberation Sans", "Noto Sans CJK SC", sans-serif' >40</text>
<text transform="translate(974.50,995.50) scale(0.82,1)" font-size="13.9" text-anchor="middle" font-weight="normal" fill="#231815" font-family='"Liberation Sans", "Noto Sans CJK SC", sans-serif' >-</text>
<text transform="translate(1053.50,995.50) scale(0.82,1)" font-size="13.9" text-anchor="middle" font-weight="normal" fill="#231815" font-family='"Liberation Sans", "Noto Sans CJK SC", sans-serif' >-</text>
<text transform="translate(1128.00,995.50) scale(0.82,1)" font-size="13.9" text-anchor="middle" font-weight="normal" fill="#231815" font-family='"Liberation Sans", "Noto Sans CJK SC", sans-serif' >BE1</text>
<text transform="translate(1175.50,995.50) scale(0.82,1)" font-size="13.9" text-anchor="middle" font-weight="normal" fill="#231815" font-family='"Liberation Sans", "Noto Sans CJK SC", sans-serif' >LPG</text>
<text transform="translate(513.40,1326.00) scale(0.888,1)" font-size="16" text-anchor="start" font-weight="normal" fill="#231815" font-family='"Liberation Sans", "Noto Sans CJK SC", sans-serif' >BTG 28 ME</text>
<text transform="translate(1188.00,1325.30) scale(1.0,1)" font-size="14.9" text-anchor="end" font-weight="500" fill="#231815" font-family='"Liberation Sans", "Noto Sans CJK SC", sans-serif' letter-spacing="0.55">天然气</text>
<rect x="504.00" y="1368.80" width="696.00" height="70.60" fill="#e6f4fc" />
<rect x="504.00" y="1330.00" width="146.00" height="38.80" fill="#52c0ef" />
<rect x="653.00" y="1330.00" width="88.00" height="38.80" fill="#52c0ef" />
<rect x="745.00" y="1330.00" width="73.50" height="38.80" fill="#52c0ef" />
<rect x="822.00" y="1330.00" width="92.50" height="38.80" fill="#52c0ef" />
<rect x="918.00" y="1330.00" width="64.00" height="38.80" fill="#52c0ef" />
<rect x="985.50" y="1330.00" width="101.50" height="38.80" fill="#52c0ef" />
<rect x="1090.50" y="1330.00" width="49.00" height="38.80" fill="#52c0ef" />
<rect x="1143.00" y="1330.00" width="57.00" height="38.80" fill="#52c0ef" />
<line x1="504.00" y1="1385.50" x2="1200.00" y2="1385.50" stroke="#4bb7e8" stroke-width="1.1" />
<line x1="504.00" y1="1403.50" x2="1200.00" y2="1403.50" stroke="#4bb7e8" stroke-width="1.1" />
<line x1="504.00" y1="1421.50" x2="1200.00" y2="1421.50" stroke="#4bb7e8" stroke-width="1.1" />
<line x1="504.00" y1="1439.40" x2="1200.00" y2="1439.40" stroke="#4bb7e8" stroke-width="1.1" />
<text transform="translate(578.50,1354.20) scale(1.0,1)" font-size="15.3" text-anchor="middle" font-weight="600" fill="#fff" font-family='"Liberation Sans", "Noto Serif CJK SC", serif' >曲线</text>
<text transform="translate(698.00,1354.20) scale(1.0,1)" font-size="15.3" text-anchor="middle" font-weight="600" fill="#fff" font-family='"Liberation Sans", "Noto Serif CJK SC", serif' >阀组编号</text>
<text transform="translate(782.00,1354.20) scale(1.0,1)" font-size="15.3" text-anchor="middle" font-weight="600" fill="#fff" font-family='"Liberation Sans", "Noto Serif CJK SC", serif' >检漏</text>
<text transform="translate(866.50,1345.90) scale(1.0,1)" font-size="15" text-anchor="middle" font-weight="600" fill="#fff" font-family='"Liberation Sans", "Noto Serif CJK SC", serif' >最大压力<tspan font-family="Liberation Sans, sans-serif" font-weight="bold" font-size="12.5" dy="-1.2">**</tspan></text>
<text transform="translate(866.50,1362.40) scale(0.82,1)" font-size="16" text-anchor="middle" font-weight="normal" fill="#fff" font-family='"Liberation Sans", "Noto Sans CJK SC", sans-serif' stroke="#fff" stroke-width="0.2">mbar</text>
<text transform="translate(948.50,1346.90) scale(1.0,1)" font-size="15" text-anchor="middle" font-weight="600" fill="#fff" font-family='"Liberation Sans", "Noto Serif CJK SC", serif' >过滤器</text>
<text transform="translate(948.50,1362.40) scale(1.0,1)" font-size="15" text-anchor="middle" font-weight="600" fill="#fff" font-family='"Liberation Sans", "Noto Serif CJK SC", serif' >调压器</text>
<text transform="translate(1035.50,1346.90) scale(1.0,1)" font-size="14.5" text-anchor="middle" font-weight="600" fill="#fff" font-family='"Liberation Sans", "Noto Serif CJK SC", serif' >燃烧器／阀组</text>
<text transform="translate(1035.50,1362.40) scale(1.0,1)" font-size="15" text-anchor="middle" font-weight="600" fill="#fff" font-family='"Liberation Sans", "Noto Serif CJK SC", serif' >适配器</text>
<text transform="translate(1114.50,1354.20) scale(1.0,1)" font-size="15.3" text-anchor="middle" font-weight="600" fill="#fff" font-family='"Liberation Sans", "Noto Serif CJK SC", serif' >图号</text>
<text transform="translate(1171.00,1354.20) scale(1.0,1)" font-size="15.3" text-anchor="middle" font-weight="600" fill="#fff" font-family='"Liberation Sans", "Noto Serif CJK SC", serif' >备注</text>
<text transform="translate(513.80,1383.80) scale(0.865,1)" font-size="13.9" text-anchor="start" font-weight="normal" fill="#231815" font-family='"Liberation Sans", "Noto Sans CJK SC", sans-serif' >MB...407</text>
<text transform="translate(596.50,1383.80) scale(0.865,1)" font-size="13.9" text-anchor="start" font-weight="normal" fill="#231815" font-family='"Liberation Sans", "Noto Sans CJK SC", sans-serif' >(3/4")</text>
<text transform="translate(689.00,1382.50) scale(0.82,1)" font-size="13.9" text-anchor="middle" font-weight="normal" fill="#231815" font-family='"Liberation Sans", "Noto Sans CJK SC", sans-serif' >19990573</text>
<text transform="translate(782.00,1382.80) scale(1.0,1)" font-size="12.6" text-anchor="middle" font-weight="normal" fill="#231815" font-family='"Liberation Sans", "Noto Serif CJK SC", serif' >包含</text>
<text transform="translate(866.50,1382.50) scale(0.82,1)" font-size="13.9" text-anchor="middle" font-weight="normal" fill="#231815" font-family='"Liberation Sans", "Noto Sans CJK SC", sans-serif' >360</text>
<text transform="translate(948.50,1382.80) scale(1.0,1)" font-size="12.6" text-anchor="middle" font-weight="normal" fill="#231815" font-family='"Liberation Sans", "Noto Serif CJK SC", serif' >包含</text>
<text transform="translate(1035.50,1382.50) scale(0.82,1)" font-size="13.9" text-anchor="middle" font-weight="normal" fill="#231815" font-family='"Liberation Sans", "Noto Sans CJK SC", sans-serif' >-</text>
<text transform="translate(1114.50,1382.50) scale(0.82,1)" font-size="13.9" text-anchor="middle" font-weight="normal" fill="#231815" font-family='"Liberation Sans", "Noto Sans CJK SC", sans-serif' >D2</text>
<text transform="translate(1171.00,1382.50) scale(0.82,1)" font-size="13.9" text-anchor="middle" font-weight="normal" fill="#231815" font-family='"Liberation Sans", "Noto Sans CJK SC", sans-serif' >LPG</text>
<text transform="translate(513.80,1401.80) scale(0.865,1)" font-size="13.9" text-anchor="start" font-weight="normal" fill="#231815" font-family='"Liberation Sans", "Noto Sans CJK SC", sans-serif' >MB...410</text>
<text transform="translate(596.50,1401.80) scale(0.865,1)" font-size="13.9" text-anchor="start" font-weight="normal" fill="#231815" font-family='"Liberation Sans", "Noto Sans CJK SC", sans-serif' >(1")</text>
<text transform="translate(689.00,1400.50) scale(0.82,1)" font-size="13.9" text-anchor="middle" font-weight="normal" fill="#231815" font-family='"Liberation Sans", "Noto Sans CJK SC", sans-serif' >19990574</text>
<text transform="translate(782.00,1400.80) scale(1.0,1)" font-size="12.6" text-anchor="middle" font-weight="normal" fill="#231815" font-family='"Liberation Sans", "Noto Serif CJK SC", serif' >包含</text>
<text transform="translate(866.50,1400.50) scale(0.82,1)" font-size="13.9" text-anchor="middle" font-weight="normal" fill="#231815" font-family='"Liberation Sans", "Noto Sans CJK SC", sans-serif' >360</text>
<text transform="translate(948.50,1400.80) scale(1.0,1)" font-size="12.6" text-anchor="middle" font-weight="normal" fill="#231815" font-family='"Liberation Sans", "Noto Serif CJK SC", serif' >包含</text>
<text transform="translate(1035.50,1400.50) scale(0.82,1)" font-size="13.9" text-anchor="middle" font-weight="normal" fill="#231815" font-family='"Liberation Sans", "Noto Sans CJK SC", sans-serif' >-</text>
<text transform="translate(1114.50,1400.50) scale(0.82,1)" font-size="13.9" text-anchor="middle" font-weight="normal" fill="#231815" font-family='"Liberation Sans", "Noto Sans CJK SC", sans-serif' >D2</text>
<text transform="translate(513.80,1419.80) scale(0.865,1)" font-size="13.9" text-anchor="start" font-weight="normal" fill="#231815" font-family='"Liberation Sans", "Noto Sans CJK SC", sans-serif' >MB...412</text>
<text transform="translate(596.50,1419.80) scale(0.865,1)" font-size="13.9" text-anchor="start" font-weight="normal" fill="#231815" font-family='"Liberation Sans", "Noto Sans CJK SC", sans-serif' >(1 1/4")</text>
<text transform="translate(689.00,1418.50) scale(0.82,1)" font-size="13.9" text-anchor="middle" font-weight="normal" fill="#231815" font-family='"Liberation Sans", "Noto Sans CJK SC", sans-serif' >19990575</text>
<text transform="translate(782.00,1418.80) scale(1.0,1)" font-size="12.6" text-anchor="middle" font-weight="normal" fill="#231815" font-family='"Liberation Sans", "Noto Serif CJK SC", serif' >包含</text>
<text transform="translate(866.50,1418.50) scale(0.82,1)" font-size="13.9" text-anchor="middle" font-weight="normal" fill="#231815" font-family='"Liberation Sans", "Noto Sans CJK SC", sans-serif' >360</text>
<text transform="translate(948.50,1418.80) scale(1.0,1)" font-size="12.6" text-anchor="middle" font-weight="normal" fill="#231815" font-family='"Liberation Sans", "Noto Serif CJK SC", serif' >包含</text>
<text transform="translate(1035.50,1418.50) scale(0.82,1)" font-size="13.9" text-anchor="middle" font-weight="normal" fill="#231815" font-family='"Liberation Sans", "Noto Sans CJK SC", sans-serif' >-</text>
<text transform="translate(1114.50,1418.50) scale(0.82,1)" font-size="13.9" text-anchor="middle" font-weight="normal" fill="#231815" font-family='"Liberation Sans", "Noto Sans CJK SC", sans-serif' >D2</text>
<text transform="translate(513.80,1437.70) scale(0.865,1)" font-size="13.9" text-anchor="start" font-weight="normal" fill="#231815" font-family='"Liberation Sans", "Noto Sans CJK SC", sans-serif' >MB...415</text>
<text transform="translate(596.50,1437.70) scale(0.865,1)" font-size="13.9" text-anchor="start" font-weight="normal" fill="#231815" font-family='"Liberation Sans", "Noto Sans CJK SC", sans-serif' >(1 1/2")</text>
<text transform="translate(689.00,1436.40) scale(0.82,1)" font-size="13.9" text-anchor="middle" font-weight="normal" fill="#231815" font-family='"Liberation Sans", "Noto Sans CJK SC", sans-serif' >19990576</text>
<text transform="translate(782.00,1436.70) scale(1.0,1)" font-size="12.6" text-anchor="middle" font-weight="normal" fill="#231815" font-family='"Liberation Sans", "Noto Serif CJK SC", serif' >包含</text>
<text transform="translate(866.50,1436.40) scale(0.82,1)" font-size="13.9" text-anchor="middle" font-weight="normal" fill="#231815" font-family='"Liberation Sans", "Noto Sans CJK SC", sans-serif' >360</text>
<text transform="translate(948.50,1436.70) scale(1.0,1)" font-size="12.6" text-anchor="middle" font-weight="normal" fill="#231815" font-family='"Liberation Sans", "Noto Serif CJK SC", serif' >包含</text>
<text transform="translate(1035.50,1436.40) scale(0.82,1)" font-size="13.9" text-anchor="middle" font-weight="normal" fill="#231815" font-family='"Liberation Sans", "Noto Sans CJK SC", sans-serif' >-</text>
<text transform="translate(1114.50,1436.40) scale(0.82,1)" font-size="13.9" text-anchor="middle" font-weight="normal" fill="#231815" font-family='"Liberation Sans", "Noto Sans CJK SC", sans-serif' >D2</text>
<text transform="translate(59.70,349.20) scale(1.0,1)" font-size="12.3" text-anchor="start" font-weight="500" fill="#231815" font-family='"Liberation Sans", "Noto Sans CJK SC", sans-serif' letter-spacing="1.3">压力损失</text>
<text transform="translate(59.70,364.20) scale(1.0,1)" font-size="12.3" text-anchor="start" font-weight="500" fill="#231815" font-family='"Liberation Sans", "Noto Sans CJK SC", sans-serif' letter-spacing="0.95">(阀组+燃烧器)</text>
<text transform="translate(403.20,347.40) scale(0.82,1)" font-size="14.5" text-anchor="end" font-weight="normal" fill="#231815" font-family='"Liberation Sans", "Noto Sans CJK SC", sans-serif' >BTG 28</text>
<text transform="translate(406.50,364.50) scale(1.0,1)" font-size="13.2" text-anchor="end" font-weight="500" fill="#231815" font-family='"Liberation Sans", "Noto Sans CJK SC", sans-serif' >天然气</text>
<path d="M59.5 371.0V683.0M67.5 371.0V683.0M75.5 371.0V683.0M83.5 371.0V683.0M91.5 371.0V683.0M99.5 371.0V683.0M106.5 371.0V683.0M114.5 371.0V683.0M122.5 371.0V683.0M130.5 371.0V683.0M138.5 371.0V683.0M146.5 371.0V683.0M154.5 371.0V683.0M162.5 371.0V683.0M170.5 371.0V683.0M177.5 371.0V683.0M185.5 371.0V683.0M193.5 371.0V683.0M201.5 371.0V683.0M209.5 371.0V683.0M217.5 371.0V683.0M225.5 371.0V683.0M233.5 371.0V683.0M241.5 371.0V683.0M248.5 371.0V683.0M256.5 371.0V683.0M264.5 371.0V683.0M272.5 371.0V683.0M280.5 371.0V683.0M288.5 371.0V683.0M296.5 371.0V683.0M304.5 371.0V683.0M311.5 371.0V683.0M319.5 371.0V683.0M327.5 371.0V683.0M335.5 371.0V683.0M343.5 371.0V683.0M351.5 371.0V683.0M359.5 371.0V683.0M367.5 371.0V683.0M375.5 371.0V683.0M382.5 371.0V683.0M390.5 371.0V683.0M398.5 371.0V683.0M406.5 371.0V683.0M59.0 682.5H407.0M59.0 676.5H407.0M59.0 670.5H407.0M59.0 665.5H407.0M59.0 659.5H407.0M59.0 654.5H407.0M59.0 648.5H407.0M59.0 642.5H407.0M59.0 637.5H407.0M59.0 631.5H407.0M59.0 625.5H407.0M59.0 620.5H407.0M59.0 614.5H407.0M59.0 608.5H407.0M59.0 603.5H407.0M59.0 597.5H407.0M59.0 591.5H407.0M59.0 586.5H407.0M59.0 580.5H407.0M59.0 574.5H407.0M59.0 569.5H407.0M59.0 563.5H407.0M59.0 557.5H407.0M59.0 552.5H407.0M59.0 546.5H407.0M59.0 541.5H407.0M59.0 535.5H407.0M59.0 529.5H407.0M59.0 524.5H407.0M59.0 518.5H407.0M59.0 512.5H407.0M59.0 507.5H407.0M59.0 501.5H407.0M59.0 495.5H407.0M59.0 490.5H407.0M59.0 484.5H407.0M59.0 478.5H407.0M59.0 473.5H407.0M59.0 467.5H407.0M59.0 461.5H407.0M59.0 456.5H407.0M59.0 450.5H407.0M59.0 444.5H407.0M59.0 439.5H407.0M59.0 433.5H407.0M59.0 428.5H407.0M59.0 422.5H407.0M59.0 416.5H407.0M59.0 411.5H407.0M59.0 405.5H407.0M59.0 399.5H407.0M59.0 394.5H407.0M59.0 388.5H407.0M59.0 382.5H407.0M59.0 377.5H407.0M59.0 371.5H407.0M56.0 682.5H59.5M56.0 654.5H59.5M56.0 625.5H59.5M56.0 597.5H59.5M56.0 569.5H59.5M56.0 541.5H59.5M56.0 512.5H59.5M56.0 484.5H59.5M56.0 456.5H59.5M56.0 428.5H59.5M56.0 399.5H59.5M56.0 371.5H59.5M59.5 682.5V687.0M91.5 682.5V687.0M122.5 682.5V687.0M154.5 682.5V687.0M185.5 682.5V687.0M217.5 682.5V687.0M248.5 682.5V687.0M280.5 682.5V687.0M311.5 682.5V687.0M343.5 682.5V687.0M375.5 682.5V687.0M406.5 682.5V687.0" stroke="#231815" stroke-width="1" fill="none"/>
<polyline points="75.42,646.67 83.31,642.87 91.19,638.90 99.07,634.78 106.96,630.52 114.84,626.11 122.73,621.55 130.62,616.85 138.50,612.01 146.38,607.03 154.27,601.91 162.16,596.66 170.04,591.28 177.92,585.76 185.81,580.12 193.69,574.34 201.58,568.44 209.47,562.41 217.35,556.26 225.24,549.98 233.12,543.58 241.00,537.06 248.89,530.42 256.77,523.66 264.66,516.78 272.54,509.78 280.43,502.66 288.31,495.44 296.20,488.09 304.08,480.63 311.97,473.06 319.85,465.38 327.74,457.58 335.62,449.68 343.51,441.66 351.39,433.54 359.28,425.30 367.16,416.96 375.05,408.51 382.93,399.96 390.82,391.30" fill="none" stroke="#18229a" stroke-width="1.55" stroke-linecap="square"/>
<polyline points="75.42,656.85 83.31,654.27 91.19,651.61 99.07,648.85 106.96,646.01 114.84,643.09 122.73,640.08 130.62,636.99 138.50,633.82 146.38,630.57 154.27,627.24 162.16,623.83 170.04,620.36 177.92,616.80 185.81,613.17 193.69,609.48 201.58,605.71 209.47,601.87 217.35,597.96 225.24,593.98 233.12,589.93 241.00,585.82 248.89,581.64 256.77,577.40 264.66,573.09 272.54,568.71 280.43,564.28 288.31,559.78 296.20,555.22 304.08,550.59 311.97,545.91 319.85,541.16 327.74,536.36 335.62,531.49 343.51,526.57 351.39,521.59 359.28,516.55 367.16,511.45 375.05,506.30 382.93,501.09 390.82,495.82" fill="none" stroke="#18229a" stroke-width="1.55" stroke-linecap="square"/>
<polyline points="75.42,666.45 83.31,664.88 91.19,663.26 99.07,661.58 106.96,659.86 114.84,658.08 122.73,656.26 130.62,654.39 138.50,652.47 146.38,650.51 154.27,648.51 162.16,646.46 170.04,644.37 177.92,642.23 185.81,640.05 193.69,637.84 201.58,635.58 209.47,633.28 217.35,630.94 225.24,628.57 233.12,626.15 241.00,623.70 248.89,621.21 256.77,618.68 264.66,616.12 272.54,613.52 280.43,610.88 288.31,608.21 296.20,605.50 304.08,602.76 311.97,599.98 319.85,597.17 327.74,594.33 335.62,591.45 343.51,588.54 351.39,585.60 359.28,582.62 367.16,579.62 375.05,576.58 382.93,573.50 390.82,570.40" fill="none" stroke="#18229a" stroke-width="1.55" stroke-linecap="square"/>
<polyline points="75.42,669.84 83.31,668.62 91.19,667.35 99.07,666.05 106.96,664.71 114.84,663.33 122.73,661.92 130.62,660.47 138.50,658.98 146.38,657.47 154.27,655.91 162.16,654.33 170.04,652.71 177.92,651.06 185.81,649.38 193.69,647.66 201.58,645.92 209.47,644.15 217.35,642.34 225.24,640.51 233.12,638.65 241.00,636.76 248.89,634.84 256.77,632.90 264.66,630.92 272.54,628.92 280.43,626.89 288.31,624.84 296.20,622.76 304.08,620.65 311.97,618.52 319.85,616.36 327.74,614.18 335.62,611.97 343.51,609.74 351.39,607.48 359.28,605.19 367.16,602.89 375.05,600.56 382.93,598.20 390.82,595.83" fill="none" stroke="#18229a" stroke-width="1.55" stroke-linecap="square"/>
<polyline points="75.42,673.79 83.31,672.89 91.19,671.95 99.07,670.96 106.96,669.93 114.84,668.86 122.73,667.74 130.62,666.58 138.50,665.38 146.38,664.14 154.27,662.85 162.16,661.51 170.04,660.14 177.92,658.71 185.81,657.25 193.69,655.74 201.58,654.19 209.47,652.59 217.35,650.94 225.24,649.26 233.12,647.52 241.00,645.74 248.89,643.92 256.77,642.05 264.66,640.14 272.54,638.18 280.43,636.17 288.31,634.12 296.20,632.02 304.08,629.88 311.97,627.68 319.85,625.45 327.74,623.16 335.62,620.83 343.51,618.45 351.39,616.02 359.28,613.55 367.16,611.02 375.05,608.45 382.93,605.84 390.82,603.17" fill="none" stroke="#e60a86" stroke-width="1.55" stroke-linecap="square"/>
<polyline points="75.42,674.25 83.31,673.41 91.19,672.54 99.07,671.63 106.96,670.68 114.84,669.69 122.73,668.66 130.62,667.60 138.50,666.49 146.38,665.35 154.27,664.17 162.16,662.95 170.04,661.69 177.92,660.39 185.81,659.05 193.69,657.67 201.58,656.25 209.47,654.79 217.35,653.29 225.24,651.76 233.12,650.18 241.00,648.56 248.89,646.90 256.77,645.20 264.66,643.46 272.54,641.68 280.43,639.86 288.31,637.99 296.20,636.09 304.08,634.14 311.97,632.15 319.85,630.12 327.74,628.05 335.62,625.94 343.51,623.78 351.39,621.58 359.28,619.34 367.16,617.06 375.05,614.73 382.93,612.36 390.82,609.95" fill="none" stroke="#e60a86" stroke-width="1.55" stroke-linecap="square"/>
<text transform="translate(53.60,686.77) scale(0.84,1)" font-size="11.5" text-anchor="end" font-weight="bold" fill="#231815" font-family='"Liberation Sans", "Noto Sans CJK SC", sans-serif' >0</text>
<text transform="translate(53.60,658.52) scale(0.84,1)" font-size="11.5" text-anchor="end" font-weight="bold" fill="#231815" font-family='"Liberation Sans", "Noto Sans CJK SC", sans-serif' >5</text>
<text transform="translate(53.60,630.27) scale(0.84,1)" font-size="11.5" text-anchor="end" font-weight="bold" fill="#231815" font-family='"Liberation Sans", "Noto Sans CJK SC", sans-serif' >10</text>
<text transform="translate(53.60,602.02) scale(0.84,1)" font-size="11.5" text-anchor="end" font-weight="bold" fill="#231815" font-family='"Liberation Sans", "Noto Sans CJK SC", sans-serif' >15</text>
<text transform="translate(53.60,573.77) scale(0.84,1)" font-size="11.5" text-anchor="end" font-weight="bold" fill="#231815" font-family='"Liberation Sans", "Noto Sans CJK SC", sans-serif' >20</text>
<text transform="translate(53.60,545.52) scale(0.84,1)" font-size="11.5" text-anchor="end" font-weight="bold" fill="#231815" font-family='"Liberation Sans", "Noto Sans CJK SC", sans-serif' >25</text>
<text transform="translate(53.60,517.27) scale(0.84,1)" font-size="11.5" text-anchor="end" font-weight="bold" fill="#231815" font-family='"Liberation Sans", "Noto Sans CJK SC", sans-serif' >30</text>
<text transform="translate(53.60,489.02) scale(0.84,1)" font-size="11.5" text-anchor="end" font-weight="bold" fill="#231815" font-family='"Liberation Sans", "Noto Sans CJK SC", sans-serif' >35</text>
<text transform="translate(53.60,460.77) scale(0.84,1)" font-size="11.5" text-anchor="end" font-weight="bold" fill="#231815" font-family='"Liberation Sans", "Noto Sans CJK SC", sans-serif' >40</text>
<text transform="translate(53.60,432.52) scale(0.84,1)" font-size="11.5" text-anchor="end" font-weight="bold" fill="#231815" font-family='"Liberation Sans", "Noto Sans CJK SC", sans-serif' >45</text>
<text transform="translate(53.60,404.27) scale(0.84,1)" font-size="11.5" text-anchor="end" font-weight="bold" fill="#231815" font-family='"Liberation Sans", "Noto Sans CJK SC", sans-serif' >50</text>
<text transform="translate(53.60,376.02) scale(0.84,1)" font-size="11.5" text-anchor="end" font-weight="bold" fill="#231815" font-family='"Liberation Sans", "Noto Sans CJK SC", sans-serif' >55</text>
<text transform="translate(59.65,696.07) scale(0.89,1)" font-size="11.6" text-anchor="middle" font-weight="bold" fill="#231815" font-family='"Liberation Sans", "Noto Sans CJK SC", sans-serif' >70</text>
<text transform="translate(91.19,696.07) scale(0.89,1)" font-size="11.6" text-anchor="middle" font-weight="bold" fill="#231815" font-family='"Liberation Sans", "Noto Sans CJK SC", sans-serif' >90</text>
<text transform="translate(122.73,696.07) scale(0.89,1)" font-size="11.6" text-anchor="middle" font-weight="bold" fill="#231815" font-family='"Liberation Sans", "Noto Sans CJK SC", sans-serif' >110</text>
<text transform="translate(154.27,696.07) scale(0.89,1)" font-size="11.6" text-anchor="middle" font-weight="bold" fill="#231815" font-family='"Liberation Sans", "Noto Sans CJK SC", sans-serif' >130</text>
<text transform="translate(185.81,696.07) scale(0.89,1)" font-size="11.6" text-anchor="middle" font-weight="bold" fill="#231815" font-family='"Liberation Sans", "Noto Sans CJK SC", sans-serif' >150</text>
<text transform="translate(217.35,696.07) scale(0.89,1)" font-size="11.6" text-anchor="middle" font-weight="bold" fill="#231815" font-family='"Liberation Sans", "Noto Sans CJK SC", sans-serif' >170</text>
<text transform="translate(248.89,696.07) scale(0.89,1)" font-size="11.6" text-anchor="middle" font-weight="bold" fill="#231815" font-family='"Liberation Sans", "Noto Sans CJK SC", sans-serif' >190</text>
<text transform="translate(280.43,696.07) scale(0.89,1)" font-size="11.6" text-anchor="middle" font-weight="bold" fill="#231815" font-family='"Liberation Sans", "Noto Sans CJK SC", sans-serif' >210</text>
<text transform="translate(311.97,696.07) scale(0.89,1)" font-size="11.6" text-anchor="middle" font-weight="bold" fill="#231815" font-family='"Liberation Sans", "Noto Sans CJK SC", sans-serif' >230</text>
<text transform="translate(343.51,696.07) scale(0.89,1)" font-size="11.6" text-anchor="middle" font-weight="bold" fill="#231815" font-family='"Liberation Sans", "Noto Sans CJK SC", sans-serif' >250</text>
<text transform="translate(375.05,696.07) scale(0.89,1)" font-size="11.6" text-anchor="middle" font-weight="bold" fill="#231815" font-family='"Liberation Sans", "Noto Sans CJK SC", sans-serif' >270</text>
<text transform="translate(406.59,696.07) scale(0.89,1)" font-size="11.6" text-anchor="middle" font-weight="bold" fill="#231815" font-family='"Liberation Sans", "Noto Sans CJK SC", sans-serif' >290</text>
<text transform="translate(23.00,530.50) scale(1.0,1)" font-size="15" text-anchor="start" font-weight="normal" fill="#231815" font-family='"Liberation Sans", "Noto Sans CJK SC", sans-serif' ></text>
<text transform="translate(25.5,544.5) rotate(-90) scale(0.8,1)" font-size="15" fill="#231815" font-family='"Liberation Sans", "Noto Sans CJK SC", sans-serif'>mbar</text>
<text transform="translate(199.50,717.50) scale(1.0,1)" font-size="13" text-anchor="start" font-weight="500" fill="#231815" font-family='"Liberation Sans", "Noto Sans CJK SC", sans-serif' letter-spacing="0.1">燃烧器出力</text>
<text transform="translate(273.50,716.70) scale(1.0,1)" font-size="13.5" text-anchor="start" font-weight="normal" fill="#231815" font-family='"Liberation Sans", "Noto Sans CJK SC", sans-serif' letter-spacing="0.3" stroke="#231815" stroke-width="0.3">kW</text>
<rect x="408.60" y="386.20" width="53.50" height="20.60" fill="#ef7f12" />
<rect x="406.80" y="384.40" width="53.50" height="20.60" fill="#fff" stroke="#ef7f12" stroke-width="1.2"/>
<text transform="translate(433.35,392.60) scale(0.88,1)" font-size="9.2" text-anchor="middle" font-weight="bold" fill="#ef7f12" font-family='"Liberation Sans", "Noto Sans CJK SC", sans-serif' >MB...405</text>
<text transform="translate(433.35,401.90) scale(0.88,1)" font-size="9.2" text-anchor="middle" font-weight="bold" fill="#ef7f12" font-family='"Liberation Sans", "Noto Sans CJK SC", sans-serif' >1/2"</text>
<rect x="408.60" y="442.60" width="53.50" height="20.60" fill="#ef7f12" />
<rect x="406.80" y="440.80" width="53.50" height="20.60" fill="#fff" stroke="#ef7f12" stroke-width="1.2"/>
<text transform="translate(433.35,449.00) scale(0.88,1)" font-size="9.2" text-anchor="middle" font-weight="bold" fill="#ef7f12" font-family='"Liberation Sans", "Noto Sans CJK SC", sans-serif' >MB...407</text>
<text transform="translate(433.35,458.30) scale(0.88,1)" font-size="9.2" text-anchor="middle" font-weight="bold" fill="#ef7f12" font-family='"Liberation Sans", "Noto Sans CJK SC", sans-serif' >3/4"</text>
<rect x="408.60" y="495.40" width="53.50" height="20.60" fill="#ef7f12" />
<rect x="406.80" y="493.60" width="53.50" height="20.60" fill="#fff" stroke="#ef7f12" stroke-width="1.2"/>
<text transform="translate(433.35,501.80) scale(0.88,1)" font-size="9.2" text-anchor="middle" font-weight="bold" fill="#ef7f12" font-family='"Liberation Sans", "Noto Sans CJK SC", sans-serif' >MB...410</text>
<text transform="translate(433.35,511.10) scale(0.88,1)" font-size="9.2" text-anchor="middle" font-weight="bold" fill="#ef7f12" font-family='"Liberation Sans", "Noto Sans CJK SC", sans-serif' >1"</text>
<rect x="408.60" y="538.30" width="53.50" height="20.60" fill="#ef7f12" />
<rect x="406.80" y="536.50" width="53.50" height="20.60" fill="#fff" stroke="#ef7f12" stroke-width="1.2"/>
<text transform="translate(433.35,544.70) scale(0.88,1)" font-size="9.2" text-anchor="middle" font-weight="bold" fill="#ef7f12" font-family='"Liberation Sans", "Noto Sans CJK SC", sans-serif' >MB...412</text>
<text transform="translate(433.35,554.00) scale(0.88,1)" font-size="9.2" text-anchor="middle" font-weight="bold" fill="#ef7f12" font-family='"Liberation Sans", "Noto Sans CJK SC", sans-serif' >1 1/4"</text>
<rect x="408.60" y="580.30" width="53.50" height="20.60" fill="#ef7f12" />
<rect x="406.80" y="578.50" width="53.50" height="20.60" fill="#fff" stroke="#ef7f12" stroke-width="1.2"/>
<text transform="translate(433.35,586.70) scale(0.88,1)" font-size="9.2" text-anchor="middle" font-weight="bold" fill="#ef7f12" font-family='"Liberation Sans", "Noto Sans CJK SC", sans-serif' >MV  20D</text>
<text transform="translate(433.35,596.00) scale(0.88,1)" font-size="9.2" text-anchor="middle" font-weight="bold" fill="#ef7f12" font-family='"Liberation Sans", "Noto Sans CJK SC", sans-serif' >3/4"</text>
<rect x="408.60" y="624.60" width="53.50" height="20.60" fill="#ef7f12" />
<rect x="406.80" y="622.80" width="53.50" height="20.60" fill="#fff" stroke="#ef7f12" stroke-width="1.2"/>
<text transform="translate(433.35,631.00) scale(0.88,1)" font-size="9.2" text-anchor="middle" font-weight="bold" fill="#ef7f12" font-family='"Liberation Sans", "Noto Sans CJK SC", sans-serif' >MV  25D</text>
<text transform="translate(433.35,640.30) scale(0.88,1)" font-size="9.2" text-anchor="middle" font-weight="bold" fill="#ef7f12" font-family='"Liberation Sans", "Noto Sans CJK SC", sans-serif' >1"</text>
<path d="M386.0 396.4L406.5 396.4" fill="none" stroke="#ef7f12" stroke-width="1.0" stroke-dasharray="11 4 5 0"/>
<path d="M386.7 498.5L389.5 493.0L401.0 456.5L402.0 453.6L406.5 453.6" fill="none" stroke="#ef7f12" stroke-width="1.0" stroke-dasharray="9 3"/>
<path d="M406.5 503.6L402.0 503.6L387.0 570.0" fill="none" stroke="#ef7f12" stroke-width="1.0" stroke-dasharray="7 3 12 3"/>
<path d="M406.5 549.4L402.0 549.4L387.0 596.0" fill="none" stroke="#ef7f12" stroke-width="1.0" stroke-dasharray="7 3 12 3"/>
<path d="M406.5 589.0L401.5 589.0L387.0 603.5" fill="none" stroke="#ef7f12" stroke-width="1.0" stroke-dasharray="9 3"/>
<path d="M386.8 610.5L402.5 633.4L406.5 633.4" fill="none" stroke="#ef7f12" stroke-width="1.0" stroke-dasharray="9 3"/>
<text transform="translate(57.70,831.00) scale(1.0,1)" font-size="12.3" text-anchor="start" font-weight="500" fill="#231815" font-family='"Liberation Sans", "Noto Sans CJK SC", sans-serif' letter-spacing="1.3">压力损失</text>
<text transform="translate(57.70,846.00) scale(1.0,1)" font-size="12.3" text-anchor="start" font-weight="500" fill="#231815" font-family='"Liberation Sans", "Noto Sans CJK SC", sans-serif' letter-spacing="0.95">(阀组+燃烧器)</text>
<text transform="translate(405.00,829.40) scale(0.835,1)" font-size="14.5" text-anchor="end" font-weight="normal" fill="#231815" font-family='"Liberation Sans", "Noto Sans CJK SC", sans-serif' >BTG 28 P</text>
<text transform="translate(405.00,846.50) scale(1.0,1)" font-size="13.4" text-anchor="end" font-weight="500" fill="#231815" font-family='"Liberation Sans", "Noto Sans CJK SC", sans-serif' >天然气</text>
<path d="M57.5 852.0V1163.0M65.5 852.0V1163.0M73.5 852.0V1163.0M80.5 852.0V1163.0M88.5 852.0V1163.0M96.5 852.0V1163.0M103.5 852.0V1163.0M111.5 852.0V1163.0M119.5 852.0V1163.0M127.5 852.0V1163.0M134.5 852.0V1163.0M142.5 852.0V1163.0M150.5 852.0V1163.0M157.5 852.0V1163.0M165.5 852.0V1163.0M173.5 852.0V1163.0M181.5 852.0V1163.0M188.5 852.0V1163.0M196.5 852.0V1163.0M204.5 852.0V1163.0M211.5 852.0V1163.0M219.5 852.0V1163.0M227.5 852.0V1163.0M235.5 852.0V1163.0M242.5 852.0V1163.0M250.5 852.0V1163.0M258.5 852.0V1163.0M265.5 852.0V1163.0M273.5 852.0V1163.0M281.5 852.0V1163.0M289.5 852.0V1163.0M296.5 852.0V1163.0M304.5 852.0V1163.0M312.5 852.0V1163.0M319.5 852.0V1163.0M327.5 852.0V1163.0M335.5 852.0V1163.0M343.5 852.0V1163.0M350.5 852.0V1163.0M358.5 852.0V1163.0M366.5 852.0V1163.0M373.5 852.0V1163.0M381.5 852.0V1163.0M389.5 852.0V1163.0M397.5 852.0V1163.0M404.5 852.0V1163.0M57.0 1162.5H405.0M57.0 1157.5H405.0M57.0 1151.5H405.0M57.0 1145.5H405.0M57.0 1140.5H405.0M57.0 1134.5H405.0M57.0 1128.5H405.0M57.0 1123.5H405.0M57.0 1117.5H405.0M57.0 1111.5H405.0M57.0 1106.5H405.0M57.0 1100.5H405.0M57.0 1095.5H405.0M57.0 1089.5H405.0M57.0 1083.5H405.0M57.0 1078.5H405.0M57.0 1072.5H405.0M57.0 1066.5H405.0M57.0 1061.5H405.0M57.0 1055.5H405.0M57.0 1049.5H405.0M57.0 1044.5H405.0M57.0 1038.5H405.0M57.0 1033.5H405.0M57.0 1027.5H405.0M57.0 1021.5H405.0M57.0 1016.5H405.0M57.0 1010.5H405.0M57.0 1004.5H405.0M57.0 999.5H405.0M57.0 993.5H405.0M57.0 987.5H405.0M57.0 982.5H405.0M57.0 976.5H405.0M57.0 970.5H405.0M57.0 965.5H405.0M57.0 959.5H405.0M57.0 954.5H405.0M57.0 948.5H405.0M57.0 942.5H405.0M57.0 937.5H405.0M57.0 931.5H405.0M57.0 925.5H405.0M57.0 920.5H405.0M57.0 914.5H405.0M57.0 908.5H405.0M57.0 903.5H405.0M57.0 897.5H405.0M57.0 892.5H405.0M57.0 886.5H405.0M57.0 880.5H405.0M57.0 875.5H405.0M57.0 869.5H405.0M57.0 863.5H405.0M57.0 858.5H405.0M57.0 852.5H405.0M54.0 1162.5H57.5M54.0 1134.5H57.5M54.0 1106.5H57.5M54.0 1078.5H57.5M54.0 1049.5H57.5M54.0 1021.5H57.5M54.0 993.5H57.5M54.0 965.5H57.5M54.0 937.5H57.5M54.0 908.5H57.5M54.0 880.5H57.5M54.0 852.5H57.5M57.5 1162.5V1167.0M96.5 1162.5V1167.0M134.5 1162.5V1167.0M173.5 1162.5V1167.0M211.5 1162.5V1167.0M250.5 1162.5V1167.0M289.5 1162.5V1167.0M327.5 1162.5V1167.0M366.5 1162.5V1167.0M404.5 1162.5V1167.0" stroke="#231815" stroke-width="1" fill="none"/>
<polyline points="65.30,1127.74 73.01,1123.97 80.73,1120.05 88.44,1115.98 96.16,1111.76 103.87,1107.39 111.59,1102.88 119.30,1098.22 127.02,1093.42 134.74,1088.48 142.45,1083.40 150.17,1078.19 157.88,1072.84 165.60,1067.36 173.31,1061.75 181.03,1056.01 188.74,1050.14 196.46,1044.15 204.18,1038.03 211.89,1031.78 219.61,1025.41 227.32,1018.91 235.04,1012.30 242.75,1005.56 250.47,998.70 258.18,991.73 265.90,984.64 273.62,977.43 281.33,970.10 289.05,962.66 296.76,955.10 304.48,947.44 312.19,939.65 319.91,931.76 327.62,923.75 335.34,915.64 343.06,907.41 350.77,899.08 358.49,890.63 366.20,882.08 373.92,873.42" fill="none" stroke="#18229a" stroke-width="1.55" stroke-linecap="square"/>
<polyline points="65.30,1137.89 73.01,1135.35 80.73,1132.71 88.44,1129.99 96.16,1127.18 103.87,1124.28 111.59,1121.29 119.30,1118.22 127.02,1115.07 134.74,1111.84 142.45,1108.53 150.17,1105.14 157.88,1101.67 165.60,1098.13 173.31,1094.51 181.03,1090.81 188.74,1087.05 196.46,1083.21 204.18,1079.30 211.89,1075.32 219.61,1071.27 227.32,1067.15 235.04,1062.96 242.75,1058.71 250.47,1054.39 258.18,1050.00 265.90,1045.54 273.62,1041.02 281.33,1036.44 289.05,1031.79 296.76,1027.08 304.48,1022.31 312.19,1017.48 319.91,1012.58 327.62,1007.62 335.34,1002.60 343.06,997.52 350.77,992.38 358.49,987.19 366.20,981.93 373.92,976.61" fill="none" stroke="#18229a" stroke-width="1.55" stroke-linecap="square"/>
<polyline points="65.30,1146.91 73.01,1145.34 80.73,1143.72 88.44,1142.05 96.16,1140.33 103.87,1138.56 111.59,1136.74 119.30,1134.87 127.02,1132.96 134.74,1131.01 142.45,1129.00 150.17,1126.96 157.88,1124.87 165.60,1122.74 173.31,1120.57 181.03,1118.35 188.74,1116.10 196.46,1113.81 204.18,1111.47 211.89,1109.10 219.61,1106.69 227.32,1104.24 235.04,1101.76 242.75,1099.23 250.47,1096.68 258.18,1094.08 265.90,1091.45 273.62,1088.78 281.33,1086.08 289.05,1083.35 296.76,1080.57 304.48,1077.77 312.19,1074.93 319.91,1072.06 327.62,1069.16 335.34,1066.22 343.06,1063.25 350.77,1060.25 358.49,1057.21 366.20,1054.15 373.92,1051.05" fill="none" stroke="#18229a" stroke-width="1.55" stroke-linecap="square"/>
<polyline points="65.30,1150.29 73.01,1149.06 80.73,1147.79 88.44,1146.48 96.16,1145.13 103.87,1143.75 111.59,1142.32 119.30,1140.86 127.02,1139.36 134.74,1137.83 142.45,1136.26 150.17,1134.66 157.88,1133.03 165.60,1131.36 173.31,1129.66 181.03,1127.92 188.74,1126.16 196.46,1124.36 204.18,1122.54 211.89,1120.68 219.61,1118.80 227.32,1116.88 235.04,1114.94 242.75,1112.96 250.47,1110.96 258.18,1108.93 265.90,1106.88 273.62,1104.79 281.33,1102.68 289.05,1100.54 296.76,1098.37 304.48,1096.18 312.19,1093.96 319.91,1091.72 327.62,1089.45 335.34,1087.15 343.06,1084.83 350.77,1082.48 358.49,1080.11 366.20,1077.72 373.92,1075.30" fill="none" stroke="#18229a" stroke-width="1.55" stroke-linecap="square"/>
<polyline points="65.30,1153.11 73.01,1151.99 80.73,1150.81 88.44,1149.57 96.16,1148.28 103.87,1146.94 111.59,1145.54 119.30,1144.09 127.02,1142.58 134.74,1141.02 142.45,1139.41 150.17,1137.74 157.88,1136.03 165.60,1134.26 173.31,1132.44 181.03,1130.57 188.74,1128.65 196.46,1126.68 204.18,1124.66 211.89,1122.59 219.61,1120.47 227.32,1118.30 235.04,1116.08 242.75,1113.81 250.47,1111.50 258.18,1109.13 265.90,1106.72 273.62,1104.26 281.33,1101.75 289.05,1099.19 296.76,1096.59 304.48,1093.93 312.19,1091.23 319.91,1088.49 327.62,1085.70 335.34,1082.86 343.06,1079.97 350.77,1077.04 358.49,1074.06 366.20,1071.04 373.92,1067.96" fill="none" stroke="#e60a86" stroke-width="1.55" stroke-linecap="square"/>
<text transform="translate(51.50,1168.00) scale(0.84,1)" font-size="11.5" text-anchor="end" font-weight="bold" fill="#231815" font-family='"Liberation Sans", "Noto Sans CJK SC", sans-serif' >0</text>
<text transform="translate(51.50,1139.81) scale(0.84,1)" font-size="11.5" text-anchor="end" font-weight="bold" fill="#231815" font-family='"Liberation Sans", "Noto Sans CJK SC", sans-serif' >5</text>
<text transform="translate(51.50,1111.61) scale(0.84,1)" font-size="11.5" text-anchor="end" font-weight="bold" fill="#231815" font-family='"Liberation Sans", "Noto Sans CJK SC", sans-serif' >10</text>
<text transform="translate(51.50,1083.41) scale(0.84,1)" font-size="11.5" text-anchor="end" font-weight="bold" fill="#231815" font-family='"Liberation Sans", "Noto Sans CJK SC", sans-serif' >15</text>
<text transform="translate(51.50,1055.22) scale(0.84,1)" font-size="11.5" text-anchor="end" font-weight="bold" fill="#231815" font-family='"Liberation Sans", "Noto Sans CJK SC", sans-serif' >20</text>
<text transform="translate(51.50,1027.03) scale(0.84,1)" font-size="11.5" text-anchor="end" font-weight="bold" fill="#231815" font-family='"Liberation Sans", "Noto Sans CJK SC", sans-serif' >25</text>
<text transform="translate(51.50,998.83) scale(0.84,1)" font-size="11.5" text-anchor="end" font-weight="bold" fill="#231815" font-family='"Liberation Sans", "Noto Sans CJK SC", sans-serif' >30</text>
<text transform="translate(51.50,970.63) scale(0.84,1)" font-size="11.5" text-anchor="end" font-weight="bold" fill="#231815" font-family='"Liberation Sans", "Noto Sans CJK SC", sans-serif' >35</text>
<text transform="translate(51.50,942.44) scale(0.84,1)" font-size="11.5" text-anchor="end" font-weight="bold" fill="#231815" font-family='"Liberation Sans", "Noto Sans CJK SC", sans-serif' >40</text>
<text transform="translate(51.50,914.24) scale(0.84,1)" font-size="11.5" text-anchor="end" font-weight="bold" fill="#231815" font-family='"Liberation Sans", "Noto Sans CJK SC", sans-serif' >45</text>
<text transform="translate(51.50,886.05) scale(0.84,1)" font-size="11.5" text-anchor="end" font-weight="bold" fill="#231815" font-family='"Liberation Sans", "Noto Sans CJK SC", sans-serif' >50</text>
<text transform="translate(51.50,857.85) scale(0.84,1)" font-size="11.5" text-anchor="end" font-weight="bold" fill="#231815" font-family='"Liberation Sans", "Noto Sans CJK SC", sans-serif' >55</text>
<text transform="translate(57.58,1176.90) scale(0.89,1)" font-size="11.6" text-anchor="middle" font-weight="bold" fill="#231815" font-family='"Liberation Sans", "Noto Sans CJK SC", sans-serif' >75</text>
<text transform="translate(96.16,1176.90) scale(0.89,1)" font-size="11.6" text-anchor="middle" font-weight="bold" fill="#231815" font-family='"Liberation Sans", "Noto Sans CJK SC", sans-serif' >100</text>
<text transform="translate(134.74,1176.90) scale(0.89,1)" font-size="11.6" text-anchor="middle" font-weight="bold" fill="#231815" font-family='"Liberation Sans", "Noto Sans CJK SC", sans-serif' >125</text>
<text transform="translate(173.31,1176.90) scale(0.89,1)" font-size="11.6" text-anchor="middle" font-weight="bold" fill="#231815" font-family='"Liberation Sans", "Noto Sans CJK SC", sans-serif' >150</text>
<text transform="translate(211.89,1176.90) scale(0.89,1)" font-size="11.6" text-anchor="middle" font-weight="bold" fill="#231815" font-family='"Liberation Sans", "Noto Sans CJK SC", sans-serif' >175</text>
<text transform="translate(250.47,1176.90) scale(0.89,1)" font-size="11.6" text-anchor="middle" font-weight="bold" fill="#231815" font-family='"Liberation Sans", "Noto Sans CJK SC", sans-serif' >200</text>
<text transform="translate(289.05,1176.90) scale(0.89,1)" font-size="11.6" text-anchor="middle" font-weight="bold" fill="#231815" font-family='"Liberation Sans", "Noto Sans CJK SC", sans-serif' >225</text>
<text transform="translate(327.62,1176.90) scale(0.89,1)" font-size="11.6" text-anchor="middle" font-weight="bold" fill="#231815" font-family='"Liberation Sans", "Noto Sans CJK SC", sans-serif' >250</text>
<text transform="translate(366.20,1176.90) scale(0.89,1)" font-size="11.6" text-anchor="middle" font-weight="bold" fill="#231815" font-family='"Liberation Sans", "Noto Sans CJK SC", sans-serif' >275</text>
<text transform="translate(404.78,1176.90) scale(0.89,1)" font-size="11.6" text-anchor="middle" font-weight="bold" fill="#231815" font-family='"Liberation Sans", "Noto Sans CJK SC", sans-serif' >300</text>
<text transform="translate(25.5,1025) rotate(-90) scale(0.8,1)" font-size="15" fill="#231815" font-family='"Liberation Sans", "Noto Sans CJK SC", sans-serif'>mbar</text>
<text transform="translate(199.50,1198.00) scale(1.0,1)" font-size="13" text-anchor="start" font-weight="500" fill="#231815" font-family='"Liberation Sans", "Noto Sans CJK SC", sans-serif' letter-spacing="0.1">燃烧器出力</text>
<text transform="translate(273.50,1197.20) scale(1.0,1)" font-size="13.5" text-anchor="start" font-weight="normal" fill="#231815" font-family='"Liberation Sans", "Noto Sans CJK SC", sans-serif' letter-spacing="0.3" stroke="#231815" stroke-width="0.3">kW</text>
<rect x="406.60" y="886.40" width="53.80" height="20.80" fill="#ef7f12" />
<rect x="404.80" y="884.60" width="53.80" height="20.80" fill="#fff" stroke="#ef7f12" stroke-width="1.2"/>
<text transform="translate(431.50,892.80) scale(0.88,1)" font-size="9.2" text-anchor="middle" font-weight="bold" fill="#ef7f12" font-family='"Liberation Sans", "Noto Sans CJK SC", sans-serif' >MB...405</text>
<text transform="translate(431.50,902.20) scale(0.88,1)" font-size="9.2" text-anchor="middle" font-weight="bold" fill="#ef7f12" font-family='"Liberation Sans", "Noto Sans CJK SC", sans-serif' >1/2"</text>
<rect x="406.60" y="969.60" width="53.80" height="20.80" fill="#ef7f12" />
<rect x="404.80" y="967.80" width="53.80" height="20.80" fill="#fff" stroke="#ef7f12" stroke-width="1.2"/>
<text transform="translate(431.50,976.00) scale(0.88,1)" font-size="9.2" text-anchor="middle" font-weight="bold" fill="#ef7f12" font-family='"Liberation Sans", "Noto Sans CJK SC", sans-serif' >MB...407</text>
<text transform="translate(431.50,985.40) scale(0.88,1)" font-size="9.2" text-anchor="middle" font-weight="bold" fill="#ef7f12" font-family='"Liberation Sans", "Noto Sans CJK SC", sans-serif' >3/4"</text>
<rect x="406.60" y="1019.40" width="53.80" height="20.80" fill="#ef7f12" />
<rect x="404.80" y="1017.60" width="53.80" height="20.80" fill="#fff" stroke="#ef7f12" stroke-width="1.2"/>
<text transform="translate(431.50,1025.80) scale(0.88,1)" font-size="9.2" text-anchor="middle" font-weight="bold" fill="#ef7f12" font-family='"Liberation Sans", "Noto Sans CJK SC", sans-serif' >MB...410</text>
<text transform="translate(431.50,1035.20) scale(0.88,1)" font-size="9.2" text-anchor="middle" font-weight="bold" fill="#ef7f12" font-family='"Liberation Sans", "Noto Sans CJK SC", sans-serif' >1"</text>
<rect x="406.60" y="1060.20" width="53.80" height="20.80" fill="#ef7f12" />
<rect x="404.80" y="1058.40" width="53.80" height="20.80" fill="#fff" stroke="#ef7f12" stroke-width="1.2"/>
<text transform="translate(431.50,1066.60) scale(0.88,1)" font-size="9.2" text-anchor="middle" font-weight="bold" fill="#ef7f12" font-family='"Liberation Sans", "Noto Sans CJK SC", sans-serif' >MV  20D</text>
<text transform="translate(431.50,1076.00) scale(0.88,1)" font-size="9.2" text-anchor="middle" font-weight="bold" fill="#ef7f12" font-family='"Liberation Sans", "Noto Sans CJK SC", sans-serif' >3/4"</text>
<rect x="406.60" y="1106.20" width="53.80" height="20.80" fill="#ef7f12" />
<rect x="404.80" y="1104.40" width="53.80" height="20.80" fill="#fff" stroke="#ef7f12" stroke-width="1.2"/>
<text transform="translate(431.50,1112.60) scale(0.88,1)" font-size="9.2" text-anchor="middle" font-weight="bold" fill="#ef7f12" font-family='"Liberation Sans", "Noto Sans CJK SC", sans-serif' >MB...412</text>
<text transform="translate(431.50,1122.00) scale(0.88,1)" font-size="9.2" text-anchor="middle" font-weight="bold" fill="#ef7f12" font-family='"Liberation Sans", "Noto Sans CJK SC", sans-serif' >1 1/4"</text>
<path d="M353.8 894.4L404.5 894.4" fill="none" stroke="#ef7f12" stroke-width="1.0" stroke-dasharray="12 3.5"/>
<path d="M369.8 979.4L404.5 979.4" fill="none" stroke="#ef7f12" stroke-width="1.0" stroke-dasharray="12 3.5"/>
<path d="M368.0 1052.6L384.4 1030.1L404.5 1030.1" fill="none" stroke="#ef7f12" stroke-width="1.0" stroke-dasharray="9 3"/>
<path d="M373.3 1069.5L404.5 1069.5" fill="none" stroke="#ef7f12" stroke-width="1.0" stroke-dasharray="12 3.5"/>
<path d="M368.0 1076.5L384.4 1114.5L404.5 1114.5" fill="none" stroke="#ef7f12" stroke-width="1.0" stroke-dasharray="9 3"/>
<text transform="translate(59.30,1307.80) scale(1.0,1)" font-size="12.3" text-anchor="start" font-weight="500" fill="#231815" font-family='"Liberation Sans", "Noto Sans CJK SC", sans-serif' letter-spacing="1.3">压力损失</text>
<text transform="translate(59.30,1320.80) scale(1.0,1)" font-size="12.3" text-anchor="start" font-weight="500" fill="#231815" font-family='"Liberation Sans", "Noto Sans CJK SC", sans-serif' letter-spacing="0.2">(阀组+燃烧器)</text>
<text transform="translate(404.60,1307.70) scale(0.835,1)" font-size="16" text-anchor="end" font-weight="normal" fill="#231815" font-family='"Liberation Sans", "Noto Sans CJK SC", sans-serif' >BTG 28 ME</text>
<text transform="translate(405.20,1323.30) scale(1.0,1)" font-size="13.1" text-anchor="end" font-weight="500" fill="#231815" font-family='"Liberation Sans", "Noto Sans CJK SC", sans-serif' >天然气</text>
<path d="M57.5 1330.0V1643.0M64.5 1330.0V1643.0M71.5 1330.0V1643.0M78.5 1330.0V1643.0M85.5 1330.0V1643.0M92.5 1330.0V1643.0M99.5 1330.0V1643.0M106.5 1330.0V1643.0M113.5 1330.0V1643.0M119.5 1330.0V1643.0M126.5 1330.0V1643.0M133.5 1330.0V1643.0M140.5 1330.0V1643.0M147.5 1330.0V1643.0M154.5 1330.0V1643.0M161.5 1330.0V1643.0M168.5 1330.0V1643.0M175.5 1330.0V1643.0M182.5 1330.0V1643.0M189.5 1330.0V1643.0M196.5 1330.0V1643.0M202.5 1330.0V1643.0M209.5 1330.0V1643.0M216.5 1330.0V1643.0M223.5 1330.0V1643.0M230.5 1330.0V1643.0M237.5 1330.0V1643.0M244.5 1330.0V1643.0M251.5 1330.0V1643.0M258.5 1330.0V1643.0M265.5 1330.0V1643.0M272.5 1330.0V1643.0M279.5 1330.0V1643.0M286.5 1330.0V1643.0M292.5 1330.0V1643.0M299.5 1330.0V1643.0M306.5 1330.0V1643.0M313.5 1330.0V1643.0M320.5 1330.0V1643.0M327.5 1330.0V1643.0M334.5 1330.0V1643.0M341.5 1330.0V1643.0M348.5 1330.0V1643.0M355.5 1330.0V1643.0M362.5 1330.0V1643.0M369.5 1330.0V1643.0M375.5 1330.0V1643.0M382.5 1330.0V1643.0M389.5 1330.0V1643.0M396.5 1330.0V1643.0M403.5 1330.0V1643.0M57.0 1642.5H404.0M57.0 1634.5H404.0M57.0 1626.5H404.0M57.0 1619.5H404.0M57.0 1611.5H404.0M57.0 1604.5H404.0M57.0 1596.5H404.0M57.0 1588.5H404.0M57.0 1581.5H404.0M57.0 1573.5H404.0M57.0 1566.5H404.0M57.0 1558.5H404.0M57.0 1550.5H404.0M57.0 1543.5H404.0M57.0 1535.5H404.0M57.0 1528.5H404.0M57.0 1520.5H404.0M57.0 1512.5H404.0M57.0 1505.5H404.0M57.0 1497.5H404.0M57.0 1490.5H404.0M57.0 1482.5H404.0M57.0 1474.5H404.0M57.0 1467.5H404.0M57.0 1459.5H404.0M57.0 1451.5H404.0M57.0 1444.5H404.0M57.0 1436.5H404.0M57.0 1429.5H404.0M57.0 1421.5H404.0M57.0 1413.5H404.0M57.0 1406.5H404.0M57.0 1398.5H404.0M57.0 1391.5H404.0M57.0 1383.5H404.0M57.0 1375.5H404.0M57.0 1368.5H404.0M57.0 1360.5H404.0M57.0 1353.5H404.0M57.0 1345.5H404.0M57.0 1337.5H404.0M57.0 1330.5H404.0M54.0 1642.5H57.5M54.0 1634.5H57.5M54.0 1626.5H57.5M54.0 1619.5H57.5M54.0 1611.5H57.5M54.0 1604.5H57.5M54.0 1596.5H57.5M54.0 1588.5H57.5M54.0 1581.5H57.5M54.0 1573.5H57.5M54.0 1566.5H57.5M54.0 1558.5H57.5M54.0 1550.5H57.5M54.0 1543.5H57.5M54.0 1535.5H57.5M54.0 1528.5H57.5M54.0 1520.5H57.5M54.0 1512.5H57.5M54.0 1505.5H57.5M54.0 1497.5H57.5M54.0 1490.5H57.5M54.0 1482.5H57.5M54.0 1474.5H57.5M54.0 1467.5H57.5M54.0 1459.5H57.5M54.0 1451.5H57.5M54.0 1444.5H57.5M54.0 1436.5H57.5M54.0 1429.5H57.5M54.0 1421.5H57.5M54.0 1413.5H57.5M54.0 1406.5H57.5M54.0 1398.5H57.5M54.0 1391.5H57.5M54.0 1383.5H57.5M54.0 1375.5H57.5M54.0 1368.5H57.5M54.0 1360.5H57.5M54.0 1353.5H57.5M54.0 1345.5H57.5M54.0 1337.5H57.5M54.0 1330.5H57.5M57.5 1642.5V1644.0M92.5 1642.5V1644.0M126.5 1642.5V1644.0M161.5 1642.5V1644.0M196.5 1642.5V1644.0M230.5 1642.5V1644.0M265.5 1642.5V1644.0M299.5 1642.5V1644.0M334.5 1642.5V1644.0M369.5 1642.5V1644.0M403.5 1642.5V1644.0" stroke="#231815" stroke-width="1" fill="none"/>
<polyline points="99.21,1604.84 106.13,1601.04 113.05,1597.08 119.97,1592.98 126.89,1588.73 133.81,1584.34 140.72,1579.79 147.64,1575.10 154.56,1570.27 161.48,1565.30 168.40,1560.18 175.32,1554.93 182.24,1549.53 189.16,1543.99 196.07,1538.32 202.99,1532.51 209.91,1526.56 216.83,1520.48 223.75,1514.26 230.67,1507.90 237.59,1501.41 244.50,1494.79 251.42,1488.03 258.34,1481.14 265.26,1474.11 272.18,1466.96 279.10,1459.67 286.02,1452.25 292.94,1444.70 299.85,1437.02 306.77,1429.21 313.69,1421.26 320.61,1413.19 327.53,1404.99 334.45,1396.66 341.37,1388.20 348.29,1379.62 355.20,1370.90 362.12,1362.06 369.04,1353.09 375.96,1343.99" fill="none" stroke="#1c48aa" stroke-width="2.2" stroke-linecap="square"/>
<polyline points="99.21,1617.76 106.13,1615.31 113.05,1612.75 119.97,1610.09 126.89,1607.34 133.81,1604.48 140.72,1601.53 147.64,1598.47 154.56,1595.32 161.48,1592.07 168.40,1588.72 175.32,1585.28 182.24,1581.74 189.16,1578.10 196.07,1574.36 202.99,1570.53 209.91,1566.60 216.83,1562.58 223.75,1558.46 230.67,1554.24 237.59,1549.93 244.50,1545.52 251.42,1541.02 258.34,1536.42 265.26,1531.72 272.18,1526.93 279.10,1522.05 286.02,1517.06 292.94,1511.99 299.85,1506.81 306.77,1501.55 313.69,1496.18 320.61,1490.72 327.53,1485.17 334.45,1479.52 341.37,1473.77 348.29,1467.93 355.20,1462.00 362.12,1455.96 369.04,1449.84 375.96,1443.61" fill="none" stroke="#1c48aa" stroke-width="2.2" stroke-linecap="square"/>
<polyline points="99.21,1623.09 106.13,1621.06 113.05,1618.95 119.97,1616.75 126.89,1614.46 133.81,1612.08 140.72,1609.62 147.64,1607.07 154.56,1604.44 161.48,1601.72 168.40,1598.92 175.32,1596.04 182.24,1593.07 189.16,1590.02 196.07,1586.88 202.99,1583.67 209.91,1580.37 216.83,1576.99 223.75,1573.52 230.67,1569.98 237.59,1566.36 244.50,1562.65 251.42,1558.86 258.34,1555.00 265.26,1551.05 272.18,1547.02 279.10,1542.91 286.02,1538.73 292.94,1534.46 299.85,1530.11 306.77,1525.68 313.69,1521.18 320.61,1516.59 327.53,1511.93 334.45,1507.19 341.37,1502.36 348.29,1497.46 355.20,1492.48 362.12,1487.43 369.04,1482.29 375.96,1477.07" fill="none" stroke="#1c48aa" stroke-width="2.2" stroke-linecap="square"/>
<polyline points="99.21,1626.13 106.13,1624.34 113.05,1622.47 119.97,1620.52 126.89,1618.49 133.81,1616.38 140.72,1614.20 147.64,1611.94 154.56,1609.61 161.48,1607.21 168.40,1604.73 175.32,1602.19 182.24,1599.57 189.16,1596.88 196.07,1594.13 202.99,1591.30 209.91,1588.41 216.83,1585.45 223.75,1582.42 230.67,1579.33 237.59,1576.17 244.50,1572.94 251.42,1569.65 258.34,1566.30 265.26,1562.88 272.18,1559.40 279.10,1555.86 286.02,1552.25 292.94,1548.59 299.85,1544.86 306.77,1541.07 313.69,1537.22 320.61,1533.31 327.53,1529.34 334.45,1525.31 341.37,1521.22 348.29,1517.07 355.20,1512.86 362.12,1508.59 369.04,1504.27 375.96,1499.89" fill="none" stroke="#1c48aa" stroke-width="2.2" stroke-linecap="square"/>
<text transform="translate(48.10,1645.50) scale(0.84,1)" font-size="11.5" text-anchor="end" font-weight="bold" fill="#231815" font-family='"Liberation Sans", "Noto Sans CJK SC", sans-serif' >0</text>
<text transform="translate(48.10,1630.29) scale(0.84,1)" font-size="11.5" text-anchor="end" font-weight="bold" fill="#231815" font-family='"Liberation Sans", "Noto Sans CJK SC", sans-serif' >2</text>
<text transform="translate(48.10,1615.08) scale(0.84,1)" font-size="11.5" text-anchor="end" font-weight="bold" fill="#231815" font-family='"Liberation Sans", "Noto Sans CJK SC", sans-serif' >4</text>
<text transform="translate(48.10,1599.87) scale(0.84,1)" font-size="11.5" text-anchor="end" font-weight="bold" fill="#231815" font-family='"Liberation Sans", "Noto Sans CJK SC", sans-serif' >6</text>
<text transform="translate(48.10,1584.66) scale(0.84,1)" font-size="11.5" text-anchor="end" font-weight="bold" fill="#231815" font-family='"Liberation Sans", "Noto Sans CJK SC", sans-serif' >8</text>
<text transform="translate(48.10,1569.45) scale(0.84,1)" font-size="11.5" text-anchor="end" font-weight="bold" fill="#231815" font-family='"Liberation Sans", "Noto Sans CJK SC", sans-serif' >10</text>
<text transform="translate(48.10,1554.24) scale(0.84,1)" font-size="11.5" text-anchor="end" font-weight="bold" fill="#231815" font-family='"Liberation Sans", "Noto Sans CJK SC", sans-serif' >12</text>
<text transform="translate(48.10,1539.03) scale(0.84,1)" font-size="11.5" text-anchor="end" font-weight="bold" fill="#231815" font-family='"Liberation Sans", "Noto Sans CJK SC", sans-serif' >14</text>
<text transform="translate(48.10,1523.82) scale(0.84,1)" font-size="11.5" text-anchor="end" font-weight="bold" fill="#231815" font-family='"Liberation Sans", "Noto Sans CJK SC", sans-serif' >16</text>
<text transform="translate(48.10,1508.61) scale(0.84,1)" font-size="11.5" text-anchor="end" font-weight="bold" fill="#231815" font-family='"Liberation Sans", "Noto Sans CJK SC", sans-serif' >18</text>
<text transform="translate(48.10,1493.40) scale(0.84,1)" font-size="11.5" text-anchor="end" font-weight="bold" fill="#231815" font-family='"Liberation Sans", "Noto Sans CJK SC", sans-serif' >20</text>
<text transform="translate(48.10,1478.19) scale(0.84,1)" font-size="11.5" text-anchor="end" font-weight="bold" fill="#231815" font-family='"Liberation Sans", "Noto Sans CJK SC", sans-serif' >22</text>
<text transform="translate(48.10,1462.98) scale(0.84,1)" font-size="11.5" text-anchor="end" font-weight="bold" fill="#231815" font-family='"Liberation Sans", "Noto Sans CJK SC", sans-serif' >24</text>
<text transform="translate(48.10,1447.77) scale(0.84,1)" font-size="11.5" text-anchor="end" font-weight="bold" fill="#231815" font-family='"Liberation Sans", "Noto Sans CJK SC", sans-serif' >26</text>
<text transform="translate(48.10,1432.56) scale(0.84,1)" font-size="11.5" text-anchor="end" font-weight="bold" fill="#231815" font-family='"Liberation Sans", "Noto Sans CJK SC", sans-serif' >28</text>
<text transform="translate(48.10,1417.35) scale(0.84,1)" font-size="11.5" text-anchor="end" font-weight="bold" fill="#231815" font-family='"Liberation Sans", "Noto Sans CJK SC", sans-serif' >30</text>
<text transform="translate(48.10,1402.14) scale(0.84,1)" font-size="11.5" text-anchor="end" font-weight="bold" fill="#231815" font-family='"Liberation Sans", "Noto Sans CJK SC", sans-serif' >32</text>
<text transform="translate(48.10,1386.93) scale(0.84,1)" font-size="11.5" text-anchor="end" font-weight="bold" fill="#231815" font-family='"Liberation Sans", "Noto Sans CJK SC", sans-serif' >34</text>
<text transform="translate(48.10,1371.72) scale(0.84,1)" font-size="11.5" text-anchor="end" font-weight="bold" fill="#231815" font-family='"Liberation Sans", "Noto Sans CJK SC", sans-serif' >36</text>
<text transform="translate(48.10,1356.51) scale(0.84,1)" font-size="11.5" text-anchor="end" font-weight="bold" fill="#231815" font-family='"Liberation Sans", "Noto Sans CJK SC", sans-serif' >38</text>
<text transform="translate(48.10,1341.30) scale(0.84,1)" font-size="11.5" text-anchor="end" font-weight="bold" fill="#231815" font-family='"Liberation Sans", "Noto Sans CJK SC", sans-serif' >40</text>
<text transform="translate(56.50,1658.90) scale(0.8,1)" font-size="11.6" text-anchor="middle" font-weight="bold" fill="#231815" font-family='"Liberation Sans", "Noto Sans CJK SC", sans-serif' >50</text>
<text transform="translate(91.00,1658.90) scale(0.8,1)" font-size="11.6" text-anchor="middle" font-weight="bold" fill="#231815" font-family='"Liberation Sans", "Noto Sans CJK SC", sans-serif' >75</text>
<text transform="translate(125.50,1658.90) scale(0.8,1)" font-size="11.6" text-anchor="middle" font-weight="bold" fill="#231815" font-family='"Liberation Sans", "Noto Sans CJK SC", sans-serif' >100</text>
<text transform="translate(160.00,1658.90) scale(0.8,1)" font-size="11.6" text-anchor="middle" font-weight="bold" fill="#231815" font-family='"Liberation Sans", "Noto Sans CJK SC", sans-serif' >125</text>
<text transform="translate(194.50,1658.90) scale(0.8,1)" font-size="11.6" text-anchor="middle" font-weight="bold" fill="#231815" font-family='"Liberation Sans", "Noto Sans CJK SC", sans-serif' >150</text>
<text transform="translate(229.00,1658.90) scale(0.8,1)" font-size="11.6" text-anchor="middle" font-weight="bold" fill="#231815" font-family='"Liberation Sans", "Noto Sans CJK SC", sans-serif' >175</text>
<text transform="translate(263.50,1658.90) scale(0.8,1)" font-size="11.6" text-anchor="middle" font-weight="bold" fill="#231815" font-family='"Liberation Sans", "Noto Sans CJK SC", sans-serif' >200</text>
<text transform="translate(298.00,1658.90) scale(0.8,1)" font-size="11.6" text-anchor="middle" font-weight="bold" fill="#231815" font-family='"Liberation Sans", "Noto Sans CJK SC", sans-serif' >225</text>
<text transform="translate(332.50,1658.90) scale(0.8,1)" font-size="11.6" text-anchor="middle" font-weight="bold" fill="#231815" font-family='"Liberation Sans", "Noto Sans CJK SC", sans-serif' >250</text>
<text transform="translate(367.00,1658.90) scale(0.8,1)" font-size="11.6" text-anchor="middle" font-weight="bold" fill="#231815" font-family='"Liberation Sans", "Noto Sans CJK SC", sans-serif' >275</text>
<text transform="translate(401.50,1658.90) scale(0.8,1)" font-size="11.6" text-anchor="middle" font-weight="bold" fill="#231815" font-family='"Liberation Sans", "Noto Sans CJK SC", sans-serif' >300</text>
<text transform="translate(24.5,1503) rotate(-90) scale(0.8,1)" font-size="15" fill="#231815" font-family='"Liberation Sans", "Noto Sans CJK SC", sans-serif'>mbar</text>
<text transform="translate(186.00,1679.80) scale(1.0,1)" font-size="13" text-anchor="start" font-weight="500" fill="#231815" font-family='"Liberation Sans", "Noto Sans CJK SC", sans-serif' letter-spacing="0.85">燃烧器出力</text>
<text transform="translate(259.20,1679.00) scale(1.0,1)" font-size="13.5" text-anchor="start" font-weight="normal" fill="#231815" font-family='"Liberation Sans", "Noto Sans CJK SC", sans-serif' letter-spacing="0.3" stroke="#231815" stroke-width="0.3">kW</text>
<rect x="406.00" y="1388.50" width="50.00" height="19.60" fill="#ef7f12" />
<rect x="403.80" y="1386.30" width="50.00" height="19.60" fill="#fff" stroke="#ef7f12" stroke-width="1.2"/>
<text transform="translate(428.60,1394.50) scale(0.88,1)" font-size="8.3" text-anchor="middle" font-weight="bold" fill="#ef7f12" font-family='"Liberation Sans", "Noto Sans CJK SC", sans-serif' >MB...407</text>
<text transform="translate(428.60,1403.30) scale(0.88,1)" font-size="8.3" text-anchor="middle" font-weight="bold" fill="#ef7f12" font-family='"Liberation Sans", "Noto Sans CJK SC", sans-serif' >3/4"</text>
<rect x="406.00" y="1447.60" width="50.00" height="19.60" fill="#ef7f12" />
<rect x="403.80" y="1445.40" width="50.00" height="19.60" fill="#fff" stroke="#ef7f12" stroke-width="1.2"/>
<text transform="translate(428.60,1453.60) scale(0.88,1)" font-size="8.3" text-anchor="middle" font-weight="bold" fill="#ef7f12" font-family='"Liberation Sans", "Noto Sans CJK SC", sans-serif' >MB...410</text>
<text transform="translate(428.60,1462.40) scale(0.88,1)" font-size="8.3" text-anchor="middle" font-weight="bold" fill="#ef7f12" font-family='"Liberation Sans", "Noto Sans CJK SC", sans-serif' >1"</text>
<rect x="406.00" y="1478.50" width="50.00" height="19.60" fill="#ef7f12" />
<rect x="403.80" y="1476.30" width="50.00" height="19.60" fill="#fff" stroke="#ef7f12" stroke-width="1.2"/>
<text transform="translate(428.60,1484.50) scale(0.88,1)" font-size="8.3" text-anchor="middle" font-weight="bold" fill="#ef7f12" font-family='"Liberation Sans", "Noto Sans CJK SC", sans-serif' >MB...412</text>
<text transform="translate(428.60,1493.30) scale(0.88,1)" font-size="8.3" text-anchor="middle" font-weight="bold" fill="#ef7f12" font-family='"Liberation Sans", "Noto Sans CJK SC", sans-serif' >1 1/4"</text>
<rect x="406.00" y="1510.70" width="50.00" height="19.60" fill="#ef7f12" />
<rect x="403.80" y="1508.50" width="50.00" height="19.60" fill="#fff" stroke="#ef7f12" stroke-width="1.2"/>
<text transform="translate(428.60,1516.70) scale(0.88,1)" font-size="8.3" text-anchor="middle" font-weight="bold" fill="#ef7f12" font-family='"Liberation Sans", "Noto Sans CJK SC", sans-serif' >MB...415</text>
<text transform="translate(428.60,1525.50) scale(0.88,1)" font-size="8.3" text-anchor="middle" font-weight="bold" fill="#ef7f12" font-family='"Liberation Sans", "Noto Sans CJK SC", sans-serif' >1 1/2"</text>
<path d="M334.0 1396.3L403.5 1396.3" fill="none" stroke="#f0701a" stroke-width="1.0" stroke-dasharray="6 3.4"/>
<path d="M365.0 1455.2L404.0 1455.2" fill="none" stroke="#f0681a" stroke-width="1.7" stroke-dasharray="6 3.4"/>
<path d="M367.3 1484.2L403.5 1484.2" fill="none" stroke="#f0681a" stroke-width="1.7" stroke-dasharray="6 3.4"/>
<path d="M351.0 1517.5L403.5 1517.5" fill="none" stroke="#f0681a" stroke-width="1.7" stroke-dasharray="6 3.4"/>
</svg>
</body>
</html>
